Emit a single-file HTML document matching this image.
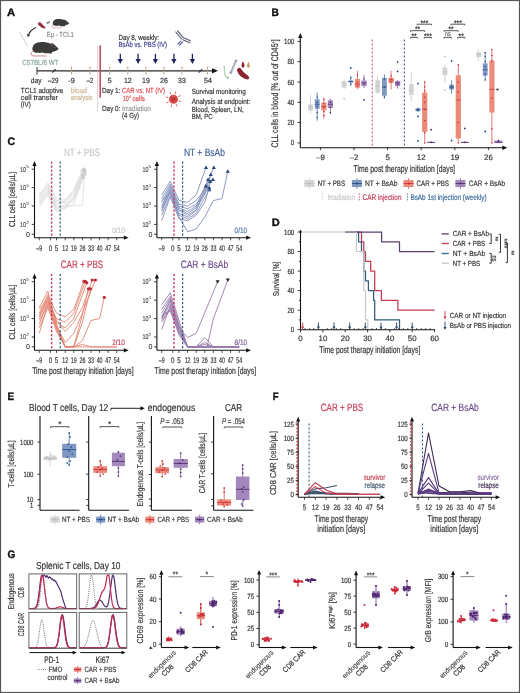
<!DOCTYPE html>
<html><head><meta charset="utf-8"><style>
html,body{margin:0;padding:0;background:#fff;overflow:hidden;}
svg{display:block;will-change:transform;}
text{font-family:"Liberation Sans",sans-serif;text-rendering:geometricPrecision;}
</style></head><body>
<svg width="520" height="693" viewBox="0 0 520 693">
<rect x="0" y="0" width="520" height="693" fill="#fff"/>
<text x="7.0" y="16.2" font-size="10.8" fill="#111" text-anchor="start" font-weight="bold" stroke="#111" stroke-width="0.35" textLength="8.2" lengthAdjust="spacingAndGlyphs" >A</text>
<g transform="translate(31.3,41.2) scale(0.76)"><path d="M1.5,9 C0.5,13 5,16.5 9,15 C11,17 15,13 17,16 L24,16 C25,17 27,16.5 26.5,15.5 L28,14 C31,13.5 33,12.5 34.5,11.5 C36,10.5 36.5,9.8 35,9 C33,7.5 32,5.5 30,4.5 C29.5,3.5 29,3 28,3.2 C27.5,2.2 26,2.3 25.5,3.2 C19,0.5 8,0 4,4 C2.5,5.5 2,7 1.5,9 Z" fill="#3d3a3a"/><ellipse cx="27.2" cy="4.8" rx="1.4" ry="1.7" fill="#6a5a5a"/><circle cx="31" cy="8.5" r="0.6" fill="#d8c8a8"/><path d="M3,13 C-2,15 -1.5,19.5 5,19.5 C10,19.5 15,19 20,19.5" stroke="#c86a72" stroke-width="1.1" fill="none"/></g>
<g transform="translate(52,18.5) scale(0.48)"><path d="M1.5,9 C0.5,13 5,16.5 9,15 C11,17 15,13 17,16 L24,16 C25,17 27,16.5 26.5,15.5 L28,14 C31,13.5 33,12.5 34.5,11.5 C36,10.5 36.5,9.8 35,9 C33,7.5 32,5.5 30,4.5 C29.5,3.5 29,3 28,3.2 C27.5,2.2 26,2.3 25.5,3.2 C19,0.5 8,0 4,4 C2.5,5.5 2,7 1.5,9 Z" fill="#3d3a3a"/><ellipse cx="27.2" cy="4.8" rx="1.4" ry="1.7" fill="#6a5a5a"/><circle cx="31" cy="8.5" r="0.6" fill="#d8c8a8"/><path d="M3,13 C-2,15 -1.5,19.5 5,19.5 C10,19.5 15,19 20,19.5" stroke="#c86a72" stroke-width="1.1" fill="none"/></g>
<path d="M38,23 C39,21.5 41,22 42.5,24.5 C44,26.5 45.8,27 45.5,28 C45,28.8 43,28.5 41,27 C39,25.5 37.5,24.5 38,23 Z" stroke="none" fill="#8e2a3c" stroke-width="1" />
<path d="M39.2,23.2 C40.2,22.8 41.5,24 42.3,25.3" stroke="#d05068" fill="none" stroke-width="0.6" />
<path d="M47.5,22.6 L50,21.8" stroke="#333" fill="none" stroke-width="0.8" />
<path d="M46,23.2 L48.2,21.8 L48.6,23.6 Z" stroke="none" fill="#333" stroke-width="1" />
<path d="M36,27.5 C32.5,29 29.8,31.5 28.6,34.5" stroke="#222" fill="none" stroke-width="1.1" />
<path d="M26.9,33.9 L27.9,37 L30.4,34.9 Z" stroke="none" fill="#222" stroke-width="1" />
<line x1="19.0" y1="31.6" x2="27.7" y2="46.0" stroke="#a0a0a0" stroke-width="0.5" />
<text x="46.7" y="37.0" font-size="7.45" fill="#8c8c8c" text-anchor="start" stroke="#8c8c8c" stroke-width="0.18" textLength="27.1" lengthAdjust="spacingAndGlyphs" >Eµ - TCL1</text>
<text x="22.3" y="64.6" font-size="7.45" fill="#86a49a" text-anchor="start" stroke="#86a49a" stroke-width="0.18" textLength="36.2" lengthAdjust="spacingAndGlyphs" >C57BL/6 WT</text>
<line x1="37.0" y1="70.8" x2="214.0" y2="70.8" stroke="#2a2a2a" stroke-width="1.2" />
<path d="M212,68.2 L218,70.8 L212,73.39999999999999 Z" stroke="none" fill="#111" stroke-width="1" />
<line x1="37.0" y1="67.0" x2="37.0" y2="74.6" stroke="#333" stroke-width="1" />
<path d="M52.2,72.39999999999999 C53.4,72.0 54.6,69.6 55.8,69.2" stroke="#333" fill="none" stroke-width="1.1" />
<path d="M198.7,72.39999999999999 C199.9,72.0 201.1,69.6 202.3,69.2" stroke="#333" fill="none" stroke-width="1.1" />
<line x1="71.5" y1="66.5" x2="71.5" y2="74.5" stroke="#bca680" stroke-width="1.0" />
<line x1="90.0" y1="66.5" x2="90.0" y2="74.5" stroke="#bca680" stroke-width="1.0" />
<line x1="109.7" y1="66.5" x2="109.7" y2="74.5" stroke="#bca680" stroke-width="1.0" />
<line x1="127.8" y1="66.5" x2="127.8" y2="74.5" stroke="#bca680" stroke-width="1.0" />
<line x1="145.9" y1="66.5" x2="145.9" y2="74.5" stroke="#bca680" stroke-width="1.0" />
<line x1="163.9" y1="66.5" x2="163.9" y2="74.5" stroke="#bca680" stroke-width="1.0" />
<line x1="182.0" y1="66.5" x2="182.0" y2="74.5" stroke="#bca680" stroke-width="1.0" />
<line x1="207.4" y1="66.5" x2="207.4" y2="74.5" stroke="#bca680" stroke-width="1.0" />
<text x="30.8" y="83.2" font-size="7.45" fill="#333" text-anchor="start" stroke="#333" stroke-width="0.18" textLength="10.7" lengthAdjust="spacingAndGlyphs" >day</text>
<text x="53.2" y="83.2" font-size="7.45" fill="#333" text-anchor="middle" stroke="#333" stroke-width="0.18" textLength="10.4" lengthAdjust="spacingAndGlyphs" >–29</text>
<text x="71.5" y="83.2" font-size="7.45" fill="#333" text-anchor="middle" stroke="#333" stroke-width="0.18" textLength="6.5" lengthAdjust="spacingAndGlyphs" >-9</text>
<text x="90.0" y="83.2" font-size="7.45" fill="#333" text-anchor="middle" stroke="#333" stroke-width="0.18" textLength="6.5" lengthAdjust="spacingAndGlyphs" >–2</text>
<text x="109.7" y="83.2" font-size="7.45" fill="#333" text-anchor="middle" stroke="#333" stroke-width="0.18" textLength="3.9" lengthAdjust="spacingAndGlyphs" >5</text>
<text x="127.8" y="83.2" font-size="7.45" fill="#333" text-anchor="middle" stroke="#333" stroke-width="0.18" textLength="7.8" lengthAdjust="spacingAndGlyphs" >12</text>
<text x="145.9" y="83.2" font-size="7.45" fill="#333" text-anchor="middle" stroke="#333" stroke-width="0.18" textLength="7.8" lengthAdjust="spacingAndGlyphs" >19</text>
<text x="163.9" y="83.2" font-size="7.45" fill="#333" text-anchor="middle" stroke="#333" stroke-width="0.18" textLength="7.8" lengthAdjust="spacingAndGlyphs" >26</text>
<text x="182.0" y="83.2" font-size="7.45" fill="#333" text-anchor="middle" stroke="#333" stroke-width="0.18" textLength="7.8" lengthAdjust="spacingAndGlyphs" >33</text>
<text x="208.0" y="83.2" font-size="7.45" fill="#333" text-anchor="middle" stroke="#333" stroke-width="0.18" textLength="7.8" lengthAdjust="spacingAndGlyphs" >54</text>
<line x1="97.6" y1="45.4" x2="97.6" y2="111.5" stroke="#bbb" stroke-width="0.6" />
<line x1="100.2" y1="45.4" x2="100.2" y2="97.7" stroke="#c0505a" stroke-width="1.6" />
<text x="20.8" y="92.7" font-size="7.45" fill="#333" text-anchor="start" stroke="#333" stroke-width="0.18" textLength="42.2" lengthAdjust="spacingAndGlyphs" >TCL1 adoptive</text>
<text x="20.8" y="100.2" font-size="7.45" fill="#333" text-anchor="start" stroke="#333" stroke-width="0.18" textLength="37.0" lengthAdjust="spacingAndGlyphs" >cell transfer</text>
<text x="20.8" y="107.3" font-size="7.45" fill="#333" text-anchor="start" stroke="#333" stroke-width="0.18" textLength="10.0" lengthAdjust="spacingAndGlyphs" >(IV)</text>
<text x="70.8" y="92.7" font-size="7.45" fill="#c9b48c" text-anchor="start" stroke="#c9b48c" stroke-width="0.18" textLength="16.2" lengthAdjust="spacingAndGlyphs" >blood</text>
<text x="70.8" y="100.2" font-size="7.45" fill="#c9b48c" text-anchor="start" stroke="#c9b48c" stroke-width="0.18" textLength="21.7" lengthAdjust="spacingAndGlyphs" >analysis</text>
<text x="102.0" y="93.2" font-size="7.45" fill="#333" text-anchor="start" stroke="#333" stroke-width="0.18" textLength="18.4" lengthAdjust="spacingAndGlyphs" >Day 1:</text>
<text x="122.0" y="93.2" font-size="7.45" fill="#d9484c" text-anchor="start" stroke="#d9484c" stroke-width="0.18" textLength="43.0" lengthAdjust="spacingAndGlyphs" >CAR vs. NT (IV)</text>
<text x="122.7" y="100.6" font-size="7.45" fill="#d9484c" text-anchor="start" stroke="#d9484c" stroke-width="0.18" textLength="6.0" lengthAdjust="spacingAndGlyphs" >10</text>
<text x="129.0" y="97.5" font-size="4.32" fill="#d9484c" text-anchor="start" >6</text>
<text x="132.5" y="100.6" font-size="7.45" fill="#d9484c" text-anchor="start" stroke="#d9484c" stroke-width="0.18" textLength="12.5" lengthAdjust="spacingAndGlyphs" >cells</text>
<text x="102.0" y="110.6" font-size="7.45" fill="#333" text-anchor="start" stroke="#333" stroke-width="0.18" textLength="18.4" lengthAdjust="spacingAndGlyphs" >Day 0:</text>
<text x="122.0" y="110.6" font-size="7.45" fill="#9a9a9a" text-anchor="start" stroke="#9a9a9a" stroke-width="0.18" textLength="29.0" lengthAdjust="spacingAndGlyphs" >Irradiation</text>
<text x="122.0" y="118.4" font-size="7.45" fill="#333" text-anchor="start" stroke="#333" stroke-width="0.18" textLength="17.0" lengthAdjust="spacingAndGlyphs" >(4 Gy)</text>
<text x="118.5" y="39.6" font-size="7.45" fill="#333" text-anchor="start" stroke="#333" stroke-width="0.18" textLength="40.5" lengthAdjust="spacingAndGlyphs" >Day 8, weekly:</text>
<text x="118.5" y="47.0" font-size="7.45" fill="#3a3d93" text-anchor="start" stroke="#3a3d93" stroke-width="0.18" textLength="48.5" lengthAdjust="spacingAndGlyphs" >BsAb vs. PBS (IV)</text>
<line x1="120.3" y1="53.8" x2="120.3" y2="59.5" stroke="#1f2461" stroke-width="1.3" />
<path d="M117.7,59.0 L120.3,64.0 L122.9,59.0 Z" stroke="none" fill="#1f2461" stroke-width="1" />
<line x1="138.1" y1="53.8" x2="138.1" y2="59.5" stroke="#1f2461" stroke-width="1.3" />
<path d="M135.5,59.0 L138.1,64.0 L140.7,59.0 Z" stroke="none" fill="#1f2461" stroke-width="1" />
<line x1="155.4" y1="53.8" x2="155.4" y2="59.5" stroke="#1f2461" stroke-width="1.3" />
<path d="M152.8,59.0 L155.4,64.0 L158.0,59.0 Z" stroke="none" fill="#1f2461" stroke-width="1" />
<line x1="173.9" y1="53.8" x2="173.9" y2="59.5" stroke="#1f2461" stroke-width="1.3" />
<path d="M171.3,59.0 L173.9,64.0 L176.5,59.0 Z" stroke="none" fill="#1f2461" stroke-width="1" />
<line x1="192.4" y1="53.8" x2="192.4" y2="59.5" stroke="#1f2461" stroke-width="1.3" />
<path d="M189.8,59.0 L192.4,64.0 L195.0,59.0 Z" stroke="none" fill="#1f2461" stroke-width="1" />
<g stroke="#555a78" stroke-width="1.15" fill="none" stroke-linecap="round"><path d="M175.8,32.0 L181.6,39.0 M177.6,30.8 L183.2,37.6"/><path d="M182.8,39.8 L189.6,42.8 M183.6,37.8 L190.4,40.8"/><path d="M180.8,41.2 L178.0,44.0 M182.4,42.2 L179.6,45.0" stroke="#5a60a0"/></g>
<path d="M224.2,66 C224.6,70 224.2,74 225.6,76.2 C226.6,77.6 227.8,78.2 229,78" stroke="#a6d8aa" fill="none" stroke-width="1.4" />
<circle cx="227.8" cy="77.8" r="1.1" fill="#8cc894" />
<path d="M235.6,61.4 L231.2,72" stroke="#a8b0c0" fill="none" stroke-width="2.0" />
<circle cx="236.0" cy="60.8" r="1.4" fill="#98a0b4" />
<circle cx="230.8" cy="72.6" r="1.4" fill="#98a0b4" />
<path d="M243,61.2 C241.2,64.5 240.9,66.8 243,67.8 C245.1,66.8 244.8,64.5 243,61.2 Z" stroke="none" fill="#8e2030" stroke-width="1" />
<path d="M248.4,61.8 C246.6,65 246.3,67 248.4,68 C250.5,67 250.2,65 248.4,61.8 Z" stroke="none" fill="#c89a68" stroke-width="1" />
<path d="M237.6,70 C239,74.5 242.5,77.8 247.2,78.8 C249,78.8 248.8,77 246.8,75.6 C243.8,73.6 241.6,71.2 240.4,69 C239.6,68 237.8,68.6 237.6,70 Z" stroke="#8a2630" fill="#8a2630" stroke-width="1.4" />
<g stroke="#d94a4a" stroke-width="0.9"><line x1="178.8" y1="100.8" x2="181.1" y2="101.6"/><line x1="176.1" y1="104.1" x2="177.2" y2="106.3"/><line x1="171.9" y1="104.5" x2="171.1" y2="106.8"/><line x1="168.6" y1="101.8" x2="166.4" y2="102.9"/><line x1="168.2" y1="97.6" x2="165.9" y2="96.8"/><line x1="170.9" y1="94.3" x2="169.8" y2="92.1"/><line x1="175.1" y1="93.9" x2="175.9" y2="91.6"/><line x1="178.4" y1="96.6" x2="180.6" y2="95.5"/></g>
<circle cx="173.5" cy="99.2" r="4.5" fill="#d94a4a" />
<circle cx="173.5" cy="99.2" r="2.2" fill="#c03838" />
<text x="191.7" y="93.5" font-size="7.45" fill="#333" text-anchor="start" stroke="#333" stroke-width="0.18" textLength="54.0" lengthAdjust="spacingAndGlyphs" >Survival monitoring</text>
<text x="191.7" y="103.5" font-size="7.45" fill="#333" text-anchor="start" stroke="#333" stroke-width="0.18" textLength="58.7" lengthAdjust="spacingAndGlyphs" >Analysis at endpoint:</text>
<text x="191.7" y="111.5" font-size="7.45" fill="#333" text-anchor="start" stroke="#333" stroke-width="0.18" textLength="52.0" lengthAdjust="spacingAndGlyphs" >Blood, Spleen, LN,</text>
<text x="191.7" y="119.0" font-size="7.45" fill="#333" text-anchor="start" stroke="#333" stroke-width="0.18" textLength="21.0" lengthAdjust="spacingAndGlyphs" >BM, PC</text>
<text x="271.6" y="16.2" font-size="10.8" fill="#111" text-anchor="start" font-weight="bold" stroke="#111" stroke-width="0.35" textLength="7.4" lengthAdjust="spacingAndGlyphs" >B</text>
<line x1="300.3" y1="147.7" x2="300.3" y2="37.5" stroke="#111" stroke-width="1.1" />
<path d="M298.1,38.0 L300.3,33.0 L302.5,38.0 Z" stroke="none" fill="#111" stroke-width="1" />
<line x1="300.3" y1="147.7" x2="502.8" y2="147.7" stroke="#111" stroke-width="1.1" />
<path d="M502.3,145.5 L507.3,147.7 L502.3,149.9 Z" stroke="none" fill="#111" stroke-width="1" />
<line x1="297.5" y1="142.9" x2="300.3" y2="142.9" stroke="#222" stroke-width="0.9" />
<text x="294.2" y="145.4" font-size="7.56" fill="#333" text-anchor="end" stroke="#333" stroke-width="0.18" textLength="3.4" lengthAdjust="spacingAndGlyphs" >0</text>
<line x1="297.5" y1="122.6" x2="300.3" y2="122.6" stroke="#222" stroke-width="0.9" />
<text x="294.2" y="125.1" font-size="7.56" fill="#333" text-anchor="end" stroke="#333" stroke-width="0.18" textLength="6.8" lengthAdjust="spacingAndGlyphs" >20</text>
<line x1="297.5" y1="102.3" x2="300.3" y2="102.3" stroke="#222" stroke-width="0.9" />
<text x="294.2" y="104.8" font-size="7.56" fill="#333" text-anchor="end" stroke="#333" stroke-width="0.18" textLength="6.8" lengthAdjust="spacingAndGlyphs" >40</text>
<line x1="297.5" y1="82.0" x2="300.3" y2="82.0" stroke="#222" stroke-width="0.9" />
<text x="294.2" y="84.5" font-size="7.56" fill="#333" text-anchor="end" stroke="#333" stroke-width="0.18" textLength="6.8" lengthAdjust="spacingAndGlyphs" >60</text>
<line x1="297.5" y1="61.7" x2="300.3" y2="61.7" stroke="#222" stroke-width="0.9" />
<text x="294.2" y="64.2" font-size="7.56" fill="#333" text-anchor="end" stroke="#333" stroke-width="0.18" textLength="6.8" lengthAdjust="spacingAndGlyphs" >80</text>
<line x1="297.5" y1="41.4" x2="300.3" y2="41.4" stroke="#222" stroke-width="0.9" />
<text x="294.2" y="43.9" font-size="7.56" fill="#333" text-anchor="end" stroke="#333" stroke-width="0.18" textLength="10.2" lengthAdjust="spacingAndGlyphs" >100</text>
<text x="277.6" y="93.4" font-size="9.61" fill="#333" text-anchor="middle" stroke="#333" stroke-width="0.18" textLength="108.0" lengthAdjust="spacingAndGlyphs" transform="rotate(-90 277.6 93.4)" >CLL cells in blood [% out of CD45<tspan font-size="5" dy="-3">+</tspan><tspan dy="3">]</tspan></text>
<line x1="320.4" y1="147.7" x2="320.4" y2="150.2" stroke="#222" stroke-width="0.9" />
<text x="320.4" y="160.2" font-size="7.88" fill="#333" text-anchor="middle" stroke="#333" stroke-width="0.18" >–9</text>
<line x1="354.0" y1="147.7" x2="354.0" y2="150.2" stroke="#222" stroke-width="0.9" />
<text x="354.0" y="160.2" font-size="7.88" fill="#333" text-anchor="middle" stroke="#333" stroke-width="0.18" >–2</text>
<line x1="387.6" y1="147.7" x2="387.6" y2="150.2" stroke="#222" stroke-width="0.9" />
<text x="387.6" y="160.2" font-size="7.88" fill="#333" text-anchor="middle" stroke="#333" stroke-width="0.18" >5</text>
<line x1="421.2" y1="147.7" x2="421.2" y2="150.2" stroke="#222" stroke-width="0.9" />
<text x="421.2" y="160.2" font-size="7.88" fill="#333" text-anchor="middle" stroke="#333" stroke-width="0.18" >12</text>
<line x1="454.8" y1="147.7" x2="454.8" y2="150.2" stroke="#222" stroke-width="0.9" />
<text x="454.8" y="160.2" font-size="7.88" fill="#333" text-anchor="middle" stroke="#333" stroke-width="0.18" >19</text>
<line x1="488.4" y1="147.7" x2="488.4" y2="150.2" stroke="#222" stroke-width="0.9" />
<text x="488.4" y="160.2" font-size="7.88" fill="#333" text-anchor="middle" stroke="#333" stroke-width="0.18" >26</text>
<line x1="372.3" y1="39.6" x2="372.3" y2="147.7" stroke="#c8506e" stroke-width="1.1" stroke-dasharray="2,2" />
<line x1="404.4" y1="39.6" x2="404.4" y2="147.7" stroke="#4a6080" stroke-width="1.1" stroke-dasharray="2,2" />
<line x1="310.5" y1="95.2" x2="310.5" y2="113.5" stroke="#c8c8c8" stroke-width="0.8" />
<rect x="308.1" y="104.3" width="4.8" height="6.1" fill="#d4d4d4" stroke="none" stroke-width="1" />
<line x1="308.1" y1="107.4" x2="312.9" y2="107.4" stroke="#bdbdbd" stroke-width="0.7" />
<circle cx="310.5" cy="109.4" r="0.75" fill="#bdbdbd" />
<circle cx="310.5" cy="106.4" r="0.75" fill="#bdbdbd" />
<line x1="317.2" y1="92.5" x2="317.2" y2="120.6" stroke="#456ea3" stroke-width="0.8" />
<rect x="314.8" y="99.3" width="4.8" height="9.5" fill="#7f98c4" stroke="none" stroke-width="1" />
<line x1="314.8" y1="104.3" x2="319.6" y2="104.3" stroke="#1d4b82" stroke-width="0.7" />
<circle cx="317.2" cy="117.5" r="0.75" fill="#1d4b82" />
<circle cx="317.2" cy="112.5" r="0.75" fill="#1d4b82" />
<circle cx="317.2" cy="106.4" r="0.75" fill="#1d4b82" />
<circle cx="317.2" cy="102.3" r="0.75" fill="#1d4b82" />
<circle cx="317.2" cy="97.2" r="0.75" fill="#1d4b82" />
<line x1="323.9" y1="97.7" x2="323.9" y2="118.5" stroke="#d9574f" stroke-width="0.8" />
<rect x="321.3" y="102.7" width="5.2" height="7.7" fill="#ec8a78" stroke="none" stroke-width="1" />
<line x1="321.3" y1="106.4" x2="326.5" y2="106.4" stroke="#c8283a" stroke-width="0.7" />
<circle cx="323.9" cy="115.5" r="0.75" fill="#c8283a" />
<circle cx="323.9" cy="111.4" r="0.75" fill="#c8283a" />
<circle cx="323.9" cy="107.4" r="0.75" fill="#c8283a" />
<circle cx="323.9" cy="103.3" r="0.75" fill="#c8283a" />
<circle cx="323.9" cy="99.3" r="0.75" fill="#c8283a" />
<line x1="330.4" y1="98.6" x2="330.4" y2="114.2" stroke="#7d56a0" stroke-width="0.8" />
<rect x="327.8" y="100.3" width="5.2" height="7.6" fill="#a487bd" stroke="none" stroke-width="1" />
<line x1="327.8" y1="104.3" x2="333.0" y2="104.3" stroke="#4e246c" stroke-width="0.7" />
<circle cx="330.4" cy="112.5" r="0.75" fill="#4e246c" />
<circle cx="330.4" cy="107.4" r="0.75" fill="#4e246c" />
<circle cx="330.4" cy="102.3" r="0.75" fill="#4e246c" />
<line x1="344.1" y1="79.0" x2="344.1" y2="89.1" stroke="#c8c8c8" stroke-width="0.8" />
<rect x="341.7" y="81.0" width="4.8" height="6.6" fill="#d4d4d4" stroke="none" stroke-width="1" />
<line x1="341.7" y1="84.0" x2="346.5" y2="84.0" stroke="#bdbdbd" stroke-width="0.7" />
<circle cx="344.1" cy="98.6" r="0.9" fill="#bdbdbd" />
<line x1="350.8" y1="75.9" x2="350.8" y2="86.0" stroke="#456ea3" stroke-width="0.8" />
<rect x="348.4" y="80.5" width="4.8" height="2.0" fill="#7f98c4" stroke="none" stroke-width="1" />
<line x1="348.4" y1="81.5" x2="353.2" y2="81.5" stroke="#1d4b82" stroke-width="0.7" />
<circle cx="350.8" cy="67.9" r="0.9" fill="#1d4b82" />
<circle cx="350.8" cy="84.0" r="0.75" fill="#1d4b82" />
<circle cx="350.8" cy="77.9" r="0.75" fill="#1d4b82" />
<line x1="357.5" y1="70.8" x2="357.5" y2="89.1" stroke="#d9574f" stroke-width="0.8" />
<rect x="354.9" y="79.0" width="5.2" height="8.6" fill="#ec8a78" stroke="none" stroke-width="1" />
<line x1="354.9" y1="84.0" x2="360.1" y2="84.0" stroke="#c8283a" stroke-width="0.7" />
<circle cx="357.5" cy="86.1" r="0.75" fill="#c8283a" />
<circle cx="357.5" cy="82.0" r="0.75" fill="#c8283a" />
<circle cx="357.5" cy="74.9" r="0.75" fill="#c8283a" />
<line x1="364.0" y1="74.9" x2="364.0" y2="88.1" stroke="#7d56a0" stroke-width="0.8" />
<rect x="361.4" y="80.5" width="5.2" height="5.6" fill="#a487bd" stroke="none" stroke-width="1" />
<line x1="361.4" y1="83.0" x2="366.6" y2="83.0" stroke="#4e246c" stroke-width="0.7" />
<circle cx="364.0" cy="99.8" r="0.9" fill="#4e246c" />
<circle cx="364.0" cy="84.0" r="0.75" fill="#4e246c" />
<circle cx="364.0" cy="79.0" r="0.75" fill="#4e246c" />
<line x1="377.7" y1="75.2" x2="377.7" y2="93.7" stroke="#c8c8c8" stroke-width="0.8" />
<rect x="375.3" y="80.2" width="4.8" height="12.5" fill="#d4d4d4" stroke="none" stroke-width="1" />
<line x1="375.3" y1="86.1" x2="380.1" y2="86.1" stroke="#bdbdbd" stroke-width="0.7" />
<line x1="384.4" y1="74.3" x2="384.4" y2="98.4" stroke="#456ea3" stroke-width="0.8" />
<rect x="382.0" y="78.0" width="4.8" height="17.7" fill="#7f98c4" stroke="none" stroke-width="1" />
<line x1="382.0" y1="87.1" x2="386.8" y2="87.1" stroke="#1d4b82" stroke-width="0.7" />
<circle cx="384.4" cy="97.2" r="0.75" fill="#1d4b82" />
<circle cx="384.4" cy="87.1" r="0.75" fill="#1d4b82" />
<circle cx="384.4" cy="79.0" r="0.75" fill="#1d4b82" />
<line x1="391.1" y1="70.8" x2="391.1" y2="89.6" stroke="#d9574f" stroke-width="0.8" />
<rect x="388.5" y="77.9" width="5.2" height="5.1" fill="#ec8a78" stroke="none" stroke-width="1" />
<line x1="388.5" y1="80.0" x2="393.7" y2="80.0" stroke="#c8283a" stroke-width="0.7" />
<circle cx="391.1" cy="82.0" r="0.75" fill="#c8283a" />
<circle cx="391.1" cy="79.0" r="0.75" fill="#c8283a" />
<circle cx="391.1" cy="75.9" r="0.75" fill="#c8283a" />
<line x1="397.6" y1="80.0" x2="397.6" y2="88.6" stroke="#7d56a0" stroke-width="0.8" />
<rect x="395.0" y="81.0" width="5.2" height="5.1" fill="#a487bd" stroke="none" stroke-width="1" />
<line x1="395.0" y1="83.0" x2="400.2" y2="83.0" stroke="#4e246c" stroke-width="0.7" />
<circle cx="397.6" cy="61.8" r="0.9" fill="#4e246c" />
<circle cx="397.6" cy="71.4" r="0.9" fill="#4e246c" />
<circle cx="397.6" cy="84.0" r="0.75" fill="#4e246c" />
<line x1="411.3" y1="71.6" x2="411.3" y2="101.2" stroke="#c8c8c8" stroke-width="0.8" />
<rect x="408.9" y="84.1" width="4.8" height="10.9" fill="#d4d4d4" stroke="none" stroke-width="1" />
<line x1="408.9" y1="90.1" x2="413.7" y2="90.1" stroke="#bdbdbd" stroke-width="0.7" />
<line x1="418.0" y1="107.4" x2="418.0" y2="111.9" stroke="#456ea3" stroke-width="0.8" />
<rect x="415.6" y="108.4" width="4.8" height="2.8" fill="#7f98c4" stroke="none" stroke-width="1" />
<line x1="415.6" y1="109.4" x2="420.4" y2="109.4" stroke="#1d4b82" stroke-width="0.7" />
<circle cx="418.0" cy="83.6" r="0.9" fill="#1d4b82" />
<circle cx="418.0" cy="116.4" r="0.9" fill="#1d4b82" />
<circle cx="418.0" cy="140.9" r="0.9" fill="#1d4b82" />
<circle cx="418.0" cy="110.4" r="0.75" fill="#1d4b82" />
<circle cx="418.0" cy="109.4" r="0.75" fill="#1d4b82" />
<line x1="424.7" y1="81.7" x2="424.7" y2="142.9" stroke="#d9574f" stroke-width="0.8" />
<rect x="422.1" y="92.6" width="5.2" height="39.2" fill="#ec8a78" stroke="none" stroke-width="1" />
<line x1="422.1" y1="109.2" x2="427.3" y2="109.2" stroke="#c8283a" stroke-width="0.7" />
<circle cx="424.7" cy="142.9" r="0.75" fill="#c8283a" />
<circle cx="424.7" cy="132.8" r="0.75" fill="#c8283a" />
<circle cx="424.7" cy="120.6" r="0.75" fill="#c8283a" />
<circle cx="424.7" cy="109.4" r="0.75" fill="#c8283a" />
<circle cx="424.7" cy="102.3" r="0.75" fill="#c8283a" />
<circle cx="424.7" cy="97.2" r="0.75" fill="#c8283a" />
<circle cx="424.7" cy="91.1" r="0.75" fill="#c8283a" />
<circle cx="424.7" cy="87.1" r="0.75" fill="#c8283a" />
<circle cx="424.7" cy="82.0" r="0.75" fill="#c8283a" />
<line x1="431.2" y1="140.9" x2="431.2" y2="142.9" stroke="#7d56a0" stroke-width="0.8" />
<rect x="427.2" y="141.9" width="8.0" height="1.0" fill="#a487bd" stroke="none" stroke-width="1" />
<line x1="427.2" y1="142.4" x2="435.2" y2="142.4" stroke="#4e246c" stroke-width="0.7" />
<circle cx="431.2" cy="129.7" r="0.9" fill="#4e246c" />
<circle cx="431.2" cy="142.4" r="0.75" fill="#4e246c" />
<line x1="444.9" y1="64.9" x2="444.9" y2="82.9" stroke="#c8c8c8" stroke-width="0.8" />
<rect x="442.5" y="67.5" width="4.8" height="7.8" fill="#d4d4d4" stroke="none" stroke-width="1" />
<line x1="442.5" y1="71.9" x2="447.3" y2="71.9" stroke="#bdbdbd" stroke-width="0.7" />
<circle cx="444.9" cy="56.6" r="0.9" fill="#bdbdbd" />
<circle cx="444.9" cy="89.8" r="0.9" fill="#bdbdbd" />
<line x1="451.6" y1="80.3" x2="451.6" y2="93.8" stroke="#456ea3" stroke-width="0.8" />
<rect x="449.2" y="84.7" width="4.8" height="4.8" fill="#7f98c4" stroke="none" stroke-width="1" />
<line x1="449.2" y1="87.1" x2="454.0" y2="87.1" stroke="#1d4b82" stroke-width="0.7" />
<circle cx="451.6" cy="60.9" r="0.9" fill="#1d4b82" />
<circle cx="451.6" cy="140.5" r="0.9" fill="#1d4b82" />
<circle cx="451.6" cy="88.1" r="0.75" fill="#1d4b82" />
<circle cx="451.6" cy="86.1" r="0.75" fill="#1d4b82" />
<line x1="458.3" y1="64.2" x2="458.3" y2="142.9" stroke="#d9574f" stroke-width="0.8" />
<rect x="455.7" y="75.3" width="5.2" height="63.2" fill="#ec8a78" stroke="none" stroke-width="1" />
<line x1="455.7" y1="99.9" x2="460.9" y2="99.9" stroke="#c8283a" stroke-width="0.7" />
<circle cx="458.3" cy="142.9" r="0.75" fill="#c8283a" />
<circle cx="458.3" cy="122.6" r="0.75" fill="#c8283a" />
<circle cx="458.3" cy="92.2" r="0.75" fill="#c8283a" />
<circle cx="458.3" cy="82.0" r="0.75" fill="#c8283a" />
<circle cx="458.3" cy="64.7" r="0.75" fill="#c8283a" />
<line x1="464.8" y1="140.9" x2="464.8" y2="142.9" stroke="#7d56a0" stroke-width="0.8" />
<rect x="460.8" y="141.9" width="8.0" height="1.0" fill="#a487bd" stroke="none" stroke-width="1" />
<line x1="460.8" y1="142.4" x2="468.8" y2="142.4" stroke="#4e246c" stroke-width="0.7" />
<circle cx="464.8" cy="128.4" r="0.9" fill="#4e246c" />
<circle cx="464.8" cy="142.4" r="0.75" fill="#4e246c" />
<line x1="478.5" y1="49.1" x2="478.5" y2="60.6" stroke="#c8c8c8" stroke-width="0.8" />
<rect x="476.1" y="52.1" width="4.8" height="5.2" fill="#d4d4d4" stroke="none" stroke-width="1" />
<line x1="476.1" y1="54.6" x2="480.9" y2="54.6" stroke="#bdbdbd" stroke-width="0.7" />
<line x1="485.2" y1="52.1" x2="485.2" y2="80.2" stroke="#456ea3" stroke-width="0.8" />
<rect x="482.8" y="63.4" width="4.8" height="12.2" fill="#7f98c4" stroke="none" stroke-width="1" />
<line x1="482.8" y1="69.8" x2="487.6" y2="69.8" stroke="#1d4b82" stroke-width="0.7" />
<circle cx="485.2" cy="131.5" r="0.9" fill="#1d4b82" />
<circle cx="485.2" cy="80.0" r="0.75" fill="#1d4b82" />
<circle cx="485.2" cy="73.9" r="0.75" fill="#1d4b82" />
<circle cx="485.2" cy="66.8" r="0.75" fill="#1d4b82" />
<circle cx="485.2" cy="61.7" r="0.75" fill="#1d4b82" />
<circle cx="485.2" cy="56.6" r="0.75" fill="#1d4b82" />
<circle cx="485.2" cy="52.6" r="0.75" fill="#1d4b82" />
<line x1="491.9" y1="49.7" x2="491.9" y2="142.9" stroke="#d9574f" stroke-width="0.8" />
<rect x="489.3" y="60.6" width="5.2" height="51.9" fill="#ec8a78" stroke="none" stroke-width="1" />
<line x1="489.3" y1="89.4" x2="494.5" y2="89.4" stroke="#c8283a" stroke-width="0.7" />
<circle cx="491.9" cy="142.9" r="0.75" fill="#c8283a" />
<circle cx="491.9" cy="128.7" r="0.75" fill="#c8283a" />
<circle cx="491.9" cy="98.2" r="0.75" fill="#c8283a" />
<circle cx="491.9" cy="60.7" r="0.75" fill="#c8283a" />
<circle cx="491.9" cy="55.6" r="0.75" fill="#c8283a" />
<circle cx="491.9" cy="49.5" r="0.75" fill="#c8283a" />
<line x1="498.4" y1="139.9" x2="498.4" y2="142.9" stroke="#7d56a0" stroke-width="0.8" />
<rect x="494.4" y="140.5" width="8.0" height="2.4" fill="#a487bd" stroke="none" stroke-width="1" />
<line x1="494.4" y1="142.4" x2="502.4" y2="142.4" stroke="#4e246c" stroke-width="0.7" />
<circle cx="498.4" cy="141.9" r="0.75" fill="#4e246c" />
<circle cx="498.4" cy="140.4" r="0.75" fill="#4e246c" />
<path d="M495.8,88.8 L499.2,88.8 L497.5,91 Z" stroke="none" fill="#333" stroke-width="1" />
<path d="M417.2,25.3 L417.2,24.2 L431.6,24.2 L431.6,25.3" stroke="#444" fill="none" stroke-width="0.9" />
<text x="424.4" y="25.8" font-size="8.21" fill="#333" text-anchor="middle" stroke="#333" stroke-width="0.18" textLength="7.8" lengthAdjust="spacingAndGlyphs" >***</text>
<path d="M410.5,31.8 L410.5,30.7 L424.5,30.7 L424.5,31.8" stroke="#444" fill="none" stroke-width="0.9" />
<text x="417.5" y="32.3" font-size="8.21" fill="#333" text-anchor="middle" stroke="#333" stroke-width="0.18" textLength="5.2" lengthAdjust="spacingAndGlyphs" >**</text>
<path d="M410.5,38.5 L410.5,37.4 L417.5,37.4 L417.5,38.5" stroke="#444" fill="none" stroke-width="0.9" />
<text x="414.0" y="39.0" font-size="8.21" fill="#333" text-anchor="middle" stroke="#333" stroke-width="0.18" textLength="5.2" lengthAdjust="spacingAndGlyphs" >**</text>
<path d="M424.2,38.5 L424.2,37.4 L431.6,37.4 L431.6,38.5" stroke="#444" fill="none" stroke-width="0.9" />
<text x="427.9" y="39.0" font-size="8.21" fill="#333" text-anchor="middle" stroke="#333" stroke-width="0.18" textLength="7.8" lengthAdjust="spacingAndGlyphs" >***</text>
<path d="M450.9,25.3 L450.9,24.2 L464.9,24.2 L464.9,25.3" stroke="#444" fill="none" stroke-width="0.9" />
<text x="457.9" y="25.8" font-size="8.21" fill="#333" text-anchor="middle" stroke="#333" stroke-width="0.18" textLength="7.8" lengthAdjust="spacingAndGlyphs" >***</text>
<path d="M444.1,31.8 L444.1,30.7 L458.1,30.7 L458.1,31.8" stroke="#444" fill="none" stroke-width="0.9" />
<text x="451.1" y="32.3" font-size="8.21" fill="#333" text-anchor="middle" stroke="#333" stroke-width="0.18" textLength="5.2" lengthAdjust="spacingAndGlyphs" >**</text>
<path d="M444.1,38.5 L444.1,37.4 L451.4,37.4 L451.4,38.5" stroke="#444" fill="none" stroke-width="0.9" />
<text x="447.8" y="36.4" font-size="6.8" fill="#333" text-anchor="middle" textLength="6.0" lengthAdjust="spacingAndGlyphs" >ns</text>
<path d="M457.6,38.5 L457.6,37.4 L464.9,37.4 L464.9,38.5" stroke="#444" fill="none" stroke-width="0.9" />
<text x="461.2" y="39.0" font-size="8.21" fill="#333" text-anchor="middle" stroke="#333" stroke-width="0.18" textLength="5.2" lengthAdjust="spacingAndGlyphs" >**</text>
<text x="353.5" y="171.5" font-size="9.72" fill="#333" text-anchor="start" stroke="#333" stroke-width="0.18" textLength="101.5" lengthAdjust="spacingAndGlyphs" >Time post therapy initiation [days]</text>
<line x1="309.3" y1="178.3" x2="309.3" y2="188.7" stroke="#c8c8c8" stroke-width="0.9" />
<rect x="304.3" y="180.0" width="10.0" height="7.0" fill="#d4d4d4" stroke="none" stroke-width="1" />
<line x1="304.3" y1="183.5" x2="314.3" y2="183.5" stroke="#bdbdbd" stroke-width="0.8" />
<circle cx="309.3" cy="183.5" r="1.1" fill="#bdbdbd" />
<text x="317.7" y="186.2" font-size="7.78" fill="#333" text-anchor="start" stroke="#333" stroke-width="0.18" textLength="27.3" lengthAdjust="spacingAndGlyphs" >NT + PBS</text>
<line x1="356.9" y1="178.3" x2="356.9" y2="188.7" stroke="#456ea3" stroke-width="0.9" />
<rect x="351.9" y="180.0" width="10.0" height="7.0" fill="#7f98c4" stroke="none" stroke-width="1" />
<line x1="351.9" y1="183.5" x2="361.9" y2="183.5" stroke="#1d4b82" stroke-width="0.8" />
<circle cx="356.9" cy="183.5" r="1.1" fill="#1d4b82" />
<text x="365.0" y="186.2" font-size="7.78" fill="#333" text-anchor="start" stroke="#333" stroke-width="0.18" textLength="32.4" lengthAdjust="spacingAndGlyphs" >NT + BsAb</text>
<line x1="408.5" y1="178.3" x2="408.5" y2="188.7" stroke="#d9574f" stroke-width="0.9" />
<rect x="403.5" y="180.0" width="10.0" height="7.0" fill="#ec8a78" stroke="none" stroke-width="1" />
<line x1="403.5" y1="183.5" x2="413.5" y2="183.5" stroke="#c8283a" stroke-width="0.8" />
<circle cx="408.5" cy="183.5" r="1.1" fill="#c8283a" />
<text x="416.6" y="186.2" font-size="7.78" fill="#333" text-anchor="start" stroke="#333" stroke-width="0.18" textLength="32.4" lengthAdjust="spacingAndGlyphs" >CAR + PBS</text>
<line x1="460.4" y1="178.3" x2="460.4" y2="188.7" stroke="#7d56a0" stroke-width="0.9" />
<rect x="455.4" y="180.0" width="10.0" height="7.0" fill="#a487bd" stroke="none" stroke-width="1" />
<line x1="455.4" y1="183.5" x2="465.4" y2="183.5" stroke="#4e246c" stroke-width="0.8" />
<circle cx="460.4" cy="183.5" r="1.1" fill="#4e246c" />
<text x="468.8" y="186.2" font-size="7.78" fill="#333" text-anchor="start" stroke="#333" stroke-width="0.18" textLength="36.2" lengthAdjust="spacingAndGlyphs" >CAR + BsAb</text>
<line x1="322.3" y1="193.5" x2="322.3" y2="201.0" stroke="#ccc" stroke-width="0.8" stroke-dasharray="1.5,1.2" />
<text x="327.5" y="199.6" font-size="8.1" fill="#c8c8c8" text-anchor="start" stroke="#c8c8c8" stroke-width="0.18" textLength="27.5" lengthAdjust="spacingAndGlyphs" >Irradiation</text>
<line x1="359.3" y1="193.5" x2="359.3" y2="201.0" stroke="#c03a55" stroke-width="0.8" stroke-dasharray="1.5,1.2" />
<text x="362.5" y="199.6" font-size="8.1" fill="#c03a55" text-anchor="start" stroke="#c03a55" stroke-width="0.18" textLength="39.0" lengthAdjust="spacingAndGlyphs" >CAR injection</text>
<line x1="407.4" y1="193.5" x2="407.4" y2="201.0" stroke="#44566e" stroke-width="0.8" stroke-dasharray="1.5,1.2" />
<text x="410.4" y="199.6" font-size="8.1" fill="#3a6a9a" text-anchor="start" stroke="#3a6a9a" stroke-width="0.18" textLength="76.2" lengthAdjust="spacingAndGlyphs" >BsAb 1st injection (weekly)</text>
<text x="7.4" y="144.6" font-size="10.8" fill="#111" text-anchor="start" font-weight="bold" stroke="#111" stroke-width="0.35" textLength="7.6" lengthAdjust="spacingAndGlyphs" >C</text>
<polyline points="39.3,195.9 47.9,183.0 56.5,200.5 65.2,199.6 73.8,189.4 82.4,170.1" stroke="#d9d9d9" fill="none" stroke-width="0.75" stroke-linejoin="round" />
<path d="M80.3,171.7 L84.5,171.7 L82.4,168.2 Z" stroke="none" fill="#c8c8c8" stroke-width="1" />
<polyline points="39.3,198.6 47.9,186.7 56.5,204.2 65.2,202.3 73.8,193.1 83.6,169.2" stroke="#d9d9d9" fill="none" stroke-width="0.75" stroke-linejoin="round" />
<path d="M81.5,170.8 L85.7,170.8 L83.6,167.3 Z" stroke="none" fill="#c8c8c8" stroke-width="1" />
<polyline points="39.3,202.3 47.9,189.4 56.5,207.8 65.2,205.1 73.8,195.9 84.8,171.0" stroke="#d9d9d9" fill="none" stroke-width="0.75" stroke-linejoin="round" />
<path d="M82.7,172.6 L86.9,172.6 L84.8,169.1 Z" stroke="none" fill="#c8c8c8" stroke-width="1" />
<polyline points="39.3,205.1 47.9,192.2 56.5,211.5 65.2,206.9 73.8,198.6 84.8,173.8" stroke="#d9d9d9" fill="none" stroke-width="0.75" stroke-linejoin="round" />
<path d="M82.7,175.4 L86.9,175.4 L84.8,171.9 Z" stroke="none" fill="#c8c8c8" stroke-width="1" />
<polyline points="39.3,194.0 47.9,184.8 56.5,197.7 65.2,204.2 73.8,200.5 82.4,177.5" stroke="#d9d9d9" fill="none" stroke-width="0.75" stroke-linejoin="round" />
<path d="M80.3,179.1 L84.5,179.1 L82.4,175.6 Z" stroke="none" fill="#c8c8c8" stroke-width="1" />
<polyline points="39.3,206.9 47.9,195.0 56.5,208.8 65.2,207.8 73.8,204.2 83.6,176.6" stroke="#d9d9d9" fill="none" stroke-width="0.75" stroke-linejoin="round" />
<path d="M81.5,178.2 L85.7,178.2 L83.6,174.7 Z" stroke="none" fill="#c8c8c8" stroke-width="1" />
<polyline points="39.3,200.5 47.9,190.4 56.5,206.0 65.2,206.0 73.8,206.0 82.4,205.1 84.8,172.0" stroke="#d9d9d9" fill="none" stroke-width="0.75" stroke-linejoin="round" />
<path d="M82.7,173.6 L86.9,173.6 L84.8,170.1 Z" stroke="none" fill="#c8c8c8" stroke-width="1" />
<polyline points="39.3,196.8 47.9,187.6 56.5,202.3 65.2,201.4 73.8,191.3 84.8,169.2" stroke="#d9d9d9" fill="none" stroke-width="0.75" stroke-linejoin="round" />
<path d="M82.7,170.8 L86.9,170.8 L84.8,167.3 Z" stroke="none" fill="#c8c8c8" stroke-width="1" />
<polyline points="39.3,203.2 47.9,193.1 56.5,210.6 65.2,208.8 73.8,196.8 82.4,174.7" stroke="#d9d9d9" fill="none" stroke-width="0.75" stroke-linejoin="round" />
<path d="M80.3,176.3 L84.5,176.3 L82.4,172.8 Z" stroke="none" fill="#c8c8c8" stroke-width="1" />
<line x1="51.6" y1="161.5" x2="51.6" y2="237.5" stroke="#c03a60" stroke-width="1.4" stroke-dasharray="2.2,1.8" />
<line x1="60.2" y1="161.5" x2="60.2" y2="237.5" stroke="#2e5a7a" stroke-width="1.2" stroke-dasharray="2.2,1.8" />
<line x1="34.5" y1="237.7" x2="34.5" y2="165.4" stroke="#111" stroke-width="1.1" />
<path d="M32.4,165.9 L34.5,161.1 L36.6,165.9 Z" stroke="none" fill="#111" stroke-width="1" />
<line x1="34.5" y1="237.7" x2="124.3" y2="237.7" stroke="#111" stroke-width="1.1" />
<path d="M123.8,235.6 L128.6,237.7 L123.8,239.8 Z" stroke="none" fill="#111" stroke-width="1" />
<line x1="31.7" y1="169.2" x2="34.5" y2="169.2" stroke="#222" stroke-width="0.9" />
<text x="20.0" y="171.6" font-size="7.02" fill="#333" text-anchor="start" stroke="#333" stroke-width="0.1" textLength="6.0" lengthAdjust="spacingAndGlyphs" >10</text>
<text x="26.2" y="168.4" font-size="4.54" fill="#333" text-anchor="start" >5</text>
<line x1="31.7" y1="187.6" x2="34.5" y2="187.6" stroke="#222" stroke-width="0.9" />
<text x="20.0" y="190.0" font-size="7.02" fill="#333" text-anchor="start" stroke="#333" stroke-width="0.1" textLength="6.0" lengthAdjust="spacingAndGlyphs" >10</text>
<text x="26.2" y="186.8" font-size="4.54" fill="#333" text-anchor="start" >4</text>
<line x1="31.7" y1="206.0" x2="34.5" y2="206.0" stroke="#222" stroke-width="0.9" />
<text x="20.0" y="208.4" font-size="7.02" fill="#333" text-anchor="start" stroke="#333" stroke-width="0.1" textLength="6.0" lengthAdjust="spacingAndGlyphs" >10</text>
<text x="26.2" y="205.2" font-size="4.54" fill="#333" text-anchor="start" >3</text>
<line x1="31.7" y1="224.4" x2="34.5" y2="224.4" stroke="#222" stroke-width="0.9" />
<text x="20.0" y="226.8" font-size="7.02" fill="#333" text-anchor="start" stroke="#333" stroke-width="0.1" textLength="6.0" lengthAdjust="spacingAndGlyphs" >10</text>
<text x="26.2" y="223.6" font-size="4.54" fill="#333" text-anchor="start" >2</text>
<line x1="31.7" y1="234.3" x2="34.5" y2="234.3" stroke="#222" stroke-width="0.9" />
<text x="28.0" y="236.7" font-size="7.02" fill="#333" text-anchor="middle" stroke="#333" stroke-width="0.1" >0</text>
<line x1="39.3" y1="237.7" x2="39.3" y2="240.3" stroke="#222" stroke-width="0.8" />
<text x="39.3" y="250.8" font-size="8.21" fill="#333" text-anchor="middle" stroke="#333" stroke-width="0.18" textLength="5.9" lengthAdjust="spacingAndGlyphs" >–9</text>
<line x1="50.4" y1="237.7" x2="50.4" y2="240.3" stroke="#222" stroke-width="0.8" />
<text x="50.4" y="250.8" font-size="8.21" fill="#333" text-anchor="middle" stroke="#333" stroke-width="0.18" textLength="3.4" lengthAdjust="spacingAndGlyphs" >0</text>
<line x1="56.5" y1="237.7" x2="56.5" y2="240.3" stroke="#222" stroke-width="0.8" />
<text x="56.5" y="250.8" font-size="8.21" fill="#333" text-anchor="middle" stroke="#333" stroke-width="0.18" textLength="3.4" lengthAdjust="spacingAndGlyphs" >5</text>
<line x1="65.2" y1="237.7" x2="65.2" y2="240.3" stroke="#222" stroke-width="0.8" />
<text x="65.2" y="250.8" font-size="8.21" fill="#333" text-anchor="middle" stroke="#333" stroke-width="0.18" textLength="5.9" lengthAdjust="spacingAndGlyphs" >12</text>
<line x1="73.8" y1="237.7" x2="73.8" y2="240.3" stroke="#222" stroke-width="0.8" />
<text x="73.8" y="250.8" font-size="8.21" fill="#333" text-anchor="middle" stroke="#333" stroke-width="0.18" textLength="5.9" lengthAdjust="spacingAndGlyphs" >19</text>
<line x1="82.4" y1="237.7" x2="82.4" y2="240.3" stroke="#222" stroke-width="0.8" />
<text x="82.4" y="250.8" font-size="8.21" fill="#333" text-anchor="middle" stroke="#333" stroke-width="0.18" textLength="5.9" lengthAdjust="spacingAndGlyphs" >26</text>
<line x1="91.0" y1="237.7" x2="91.0" y2="240.3" stroke="#222" stroke-width="0.8" />
<text x="91.0" y="250.8" font-size="8.21" fill="#333" text-anchor="middle" stroke="#333" stroke-width="0.18" textLength="5.9" lengthAdjust="spacingAndGlyphs" >33</text>
<line x1="99.6" y1="237.7" x2="99.6" y2="240.3" stroke="#222" stroke-width="0.8" />
<text x="99.6" y="250.8" font-size="8.21" fill="#333" text-anchor="middle" stroke="#333" stroke-width="0.18" textLength="5.9" lengthAdjust="spacingAndGlyphs" >40</text>
<line x1="108.2" y1="237.7" x2="108.2" y2="240.3" stroke="#222" stroke-width="0.8" />
<text x="108.2" y="250.8" font-size="8.21" fill="#333" text-anchor="middle" stroke="#333" stroke-width="0.18" textLength="5.9" lengthAdjust="spacingAndGlyphs" >47</text>
<line x1="116.8" y1="237.7" x2="116.8" y2="240.3" stroke="#222" stroke-width="0.8" />
<text x="116.8" y="250.8" font-size="8.21" fill="#333" text-anchor="middle" stroke="#333" stroke-width="0.18" textLength="5.9" lengthAdjust="spacingAndGlyphs" >54</text>
<text x="82.0" y="155.8" font-size="10.58" fill="#c9c9c9" text-anchor="middle" stroke="#c9c9c9" stroke-width="0.18" textLength="36.0" lengthAdjust="spacingAndGlyphs" >NT + PBS</text>
<text x="118.5" y="232.6" font-size="7.88" fill="#c8c8c8" text-anchor="middle" stroke="#c8c8c8" stroke-width="0.18" textLength="12.6" lengthAdjust="spacingAndGlyphs" >0/10</text>
<text x="15.2" y="199.5" font-size="8.64" fill="#333" text-anchor="middle" stroke="#333" stroke-width="0.18" textLength="55.0" lengthAdjust="spacingAndGlyphs" transform="rotate(-90 15.2 199.5)" >CLL cells [cells/µL]</text>
<polyline points="161.7,195.0 170.3,181.2 179.0,200.5 187.6,202.3 196.2,195.0 206.0,167.5" stroke="#8290bb" fill="none" stroke-width="0.9" stroke-linejoin="round" />
<path d="M203.9,169.1 L208.1,169.1 L206.0,165.6 Z" stroke="none" fill="#23457a" stroke-width="1" />
<polyline points="161.7,198.6 170.3,183.9 179.0,204.2 187.6,206.0 196.2,200.5 204.8,189.4 213.8,167.5" stroke="#8290bb" fill="none" stroke-width="0.9" stroke-linejoin="round" />
<path d="M211.7,169.1 L215.9,169.1 L213.8,165.6 Z" stroke="none" fill="#23457a" stroke-width="1" />
<polyline points="161.7,202.3 170.3,185.8 179.0,206.0 187.6,208.8 196.2,204.2 204.8,193.1 210.8,174.4" stroke="#8290bb" fill="none" stroke-width="0.9" stroke-linejoin="round" />
<path d="M208.7,176.0 L212.9,176.0 L210.8,172.5 Z" stroke="none" fill="#23457a" stroke-width="1" />
<polyline points="161.7,206.0 170.3,187.6 179.0,207.8 187.6,211.5 196.2,206.0 208.1,179.3" stroke="#8290bb" fill="none" stroke-width="0.9" stroke-linejoin="round" />
<path d="M206.0,180.9 L210.2,180.9 L208.1,177.4 Z" stroke="none" fill="#23457a" stroke-width="1" />
<polyline points="161.7,207.8 170.3,189.4 179.0,209.7 187.6,213.4 196.2,207.8 210.3,181.3" stroke="#8290bb" fill="none" stroke-width="0.9" stroke-linejoin="round" />
<path d="M208.2,182.9 L212.4,182.9 L210.3,179.4 Z" stroke="none" fill="#23457a" stroke-width="1" />
<polyline points="161.7,209.7 170.3,191.3 179.0,210.6 187.6,215.2 196.2,209.7 212.9,179.3" stroke="#8290bb" fill="none" stroke-width="0.9" stroke-linejoin="round" />
<path d="M210.8,180.9 L215.0,180.9 L212.9,177.4 Z" stroke="none" fill="#23457a" stroke-width="1" />
<polyline points="161.7,200.5 170.3,193.1 179.0,213.4 187.6,217.0 196.2,210.6 206.0,185.8" stroke="#8290bb" fill="none" stroke-width="0.9" stroke-linejoin="round" />
<path d="M203.9,187.4 L208.1,187.4 L206.0,183.9 Z" stroke="none" fill="#23457a" stroke-width="1" />
<polyline points="161.7,211.5 170.3,192.2 179.0,215.2 187.6,218.9 196.2,213.4 209.2,189.6" stroke="#8290bb" fill="none" stroke-width="0.9" stroke-linejoin="round" />
<path d="M207.1,191.2 L211.3,191.2 L209.2,187.7 Z" stroke="none" fill="#23457a" stroke-width="1" />
<polyline points="161.7,220.7 170.3,196.8 179.0,218.9 187.6,220.7 196.2,215.2 204.8,202.3 209.2,187.6" stroke="#8290bb" fill="none" stroke-width="0.9" stroke-linejoin="round" />
<path d="M207.1,189.2 L211.3,189.2 L209.2,185.7 Z" stroke="none" fill="#23457a" stroke-width="1" />
<polyline points="161.7,215.2 170.3,195.0 179.0,217.0 187.6,231.8 196.2,229.0 204.8,217.0 213.4,200.5 222.0,198.6 227.8,171.2" stroke="#8290bb" fill="none" stroke-width="0.9" stroke-linejoin="round" />
<path d="M225.7,172.8 L229.9,172.8 L227.8,169.3 Z" stroke="none" fill="#23457a" stroke-width="1" />
<line x1="174.0" y1="161.5" x2="174.0" y2="237.5" stroke="#c03a60" stroke-width="1.4" stroke-dasharray="2.2,1.8" />
<line x1="182.6" y1="161.5" x2="182.6" y2="237.5" stroke="#2e5a7a" stroke-width="1.2" stroke-dasharray="2.2,1.8" />
<line x1="156.9" y1="237.7" x2="156.9" y2="165.4" stroke="#111" stroke-width="1.1" />
<path d="M154.8,165.9 L156.9,161.1 L159.0,165.9 Z" stroke="none" fill="#111" stroke-width="1" />
<line x1="156.9" y1="237.7" x2="246.7" y2="237.7" stroke="#111" stroke-width="1.1" />
<path d="M246.2,235.6 L251.0,237.7 L246.2,239.8 Z" stroke="none" fill="#111" stroke-width="1" />
<line x1="154.1" y1="169.2" x2="156.9" y2="169.2" stroke="#222" stroke-width="0.9" />
<text x="142.4" y="171.6" font-size="7.02" fill="#333" text-anchor="start" stroke="#333" stroke-width="0.1" textLength="6.0" lengthAdjust="spacingAndGlyphs" >10</text>
<text x="148.6" y="168.4" font-size="4.54" fill="#333" text-anchor="start" >5</text>
<line x1="154.1" y1="187.6" x2="156.9" y2="187.6" stroke="#222" stroke-width="0.9" />
<text x="142.4" y="190.0" font-size="7.02" fill="#333" text-anchor="start" stroke="#333" stroke-width="0.1" textLength="6.0" lengthAdjust="spacingAndGlyphs" >10</text>
<text x="148.6" y="186.8" font-size="4.54" fill="#333" text-anchor="start" >4</text>
<line x1="154.1" y1="206.0" x2="156.9" y2="206.0" stroke="#222" stroke-width="0.9" />
<text x="142.4" y="208.4" font-size="7.02" fill="#333" text-anchor="start" stroke="#333" stroke-width="0.1" textLength="6.0" lengthAdjust="spacingAndGlyphs" >10</text>
<text x="148.6" y="205.2" font-size="4.54" fill="#333" text-anchor="start" >3</text>
<line x1="154.1" y1="224.4" x2="156.9" y2="224.4" stroke="#222" stroke-width="0.9" />
<text x="142.4" y="226.8" font-size="7.02" fill="#333" text-anchor="start" stroke="#333" stroke-width="0.1" textLength="6.0" lengthAdjust="spacingAndGlyphs" >10</text>
<text x="148.6" y="223.6" font-size="4.54" fill="#333" text-anchor="start" >2</text>
<line x1="154.1" y1="234.3" x2="156.9" y2="234.3" stroke="#222" stroke-width="0.9" />
<text x="150.4" y="236.7" font-size="7.02" fill="#333" text-anchor="middle" stroke="#333" stroke-width="0.1" >0</text>
<line x1="161.7" y1="237.7" x2="161.7" y2="240.3" stroke="#222" stroke-width="0.8" />
<text x="161.7" y="250.8" font-size="8.21" fill="#333" text-anchor="middle" stroke="#333" stroke-width="0.18" textLength="5.9" lengthAdjust="spacingAndGlyphs" >–9</text>
<line x1="172.8" y1="237.7" x2="172.8" y2="240.3" stroke="#222" stroke-width="0.8" />
<text x="172.8" y="250.8" font-size="8.21" fill="#333" text-anchor="middle" stroke="#333" stroke-width="0.18" textLength="3.4" lengthAdjust="spacingAndGlyphs" >0</text>
<line x1="179.0" y1="237.7" x2="179.0" y2="240.3" stroke="#222" stroke-width="0.8" />
<text x="179.0" y="250.8" font-size="8.21" fill="#333" text-anchor="middle" stroke="#333" stroke-width="0.18" textLength="3.4" lengthAdjust="spacingAndGlyphs" >5</text>
<line x1="187.6" y1="237.7" x2="187.6" y2="240.3" stroke="#222" stroke-width="0.8" />
<text x="187.6" y="250.8" font-size="8.21" fill="#333" text-anchor="middle" stroke="#333" stroke-width="0.18" textLength="5.9" lengthAdjust="spacingAndGlyphs" >12</text>
<line x1="196.2" y1="237.7" x2="196.2" y2="240.3" stroke="#222" stroke-width="0.8" />
<text x="196.2" y="250.8" font-size="8.21" fill="#333" text-anchor="middle" stroke="#333" stroke-width="0.18" textLength="5.9" lengthAdjust="spacingAndGlyphs" >19</text>
<line x1="204.8" y1="237.7" x2="204.8" y2="240.3" stroke="#222" stroke-width="0.8" />
<text x="204.8" y="250.8" font-size="8.21" fill="#333" text-anchor="middle" stroke="#333" stroke-width="0.18" textLength="5.9" lengthAdjust="spacingAndGlyphs" >26</text>
<line x1="213.4" y1="237.7" x2="213.4" y2="240.3" stroke="#222" stroke-width="0.8" />
<text x="213.4" y="250.8" font-size="8.21" fill="#333" text-anchor="middle" stroke="#333" stroke-width="0.18" textLength="5.9" lengthAdjust="spacingAndGlyphs" >33</text>
<line x1="222.0" y1="237.7" x2="222.0" y2="240.3" stroke="#222" stroke-width="0.8" />
<text x="222.0" y="250.8" font-size="8.21" fill="#333" text-anchor="middle" stroke="#333" stroke-width="0.18" textLength="5.9" lengthAdjust="spacingAndGlyphs" >40</text>
<line x1="230.6" y1="237.7" x2="230.6" y2="240.3" stroke="#222" stroke-width="0.8" />
<text x="230.6" y="250.8" font-size="8.21" fill="#333" text-anchor="middle" stroke="#333" stroke-width="0.18" textLength="5.9" lengthAdjust="spacingAndGlyphs" >47</text>
<line x1="239.2" y1="237.7" x2="239.2" y2="240.3" stroke="#222" stroke-width="0.8" />
<text x="239.2" y="250.8" font-size="8.21" fill="#333" text-anchor="middle" stroke="#333" stroke-width="0.18" textLength="5.9" lengthAdjust="spacingAndGlyphs" >54</text>
<text x="204.4" y="155.8" font-size="10.58" fill="#3d6296" text-anchor="middle" stroke="#3d6296" stroke-width="0.18" textLength="41.0" lengthAdjust="spacingAndGlyphs" >NT + BsAb</text>
<text x="240.9" y="232.6" font-size="7.88" fill="#4a74a8" text-anchor="middle" stroke="#4a74a8" stroke-width="0.18" textLength="12.6" lengthAdjust="spacingAndGlyphs" >0/10</text>
<polyline points="39.3,313.1 47.9,294.7 56.5,313.1 65.2,316.8 73.8,309.4 83.9,281.4" stroke="#e38470" fill="none" stroke-width="0.9" stroke-linejoin="round" />
<circle cx="83.9" cy="281.4" r="1.6" fill="#c02838" />
<polyline points="39.3,318.6 47.9,300.2 56.5,318.6 65.2,322.3 73.8,313.1 85.3,281.4" stroke="#e38470" fill="none" stroke-width="0.9" stroke-linejoin="round" />
<circle cx="85.3" cy="281.4" r="1.6" fill="#c02838" />
<polyline points="39.3,324.1 47.9,302.0 56.5,322.3 65.2,327.8 73.8,318.6 86.7,282.7" stroke="#e38470" fill="none" stroke-width="0.9" stroke-linejoin="round" />
<circle cx="86.7" cy="282.7" r="1.6" fill="#c02838" />
<polyline points="39.3,309.4 47.9,298.4 56.5,320.4 65.2,331.5 73.8,322.3 82.4,307.6 92.2,280.0" stroke="#e38470" fill="none" stroke-width="0.9" stroke-linejoin="round" />
<circle cx="92.2" cy="280.0" r="1.6" fill="#c02838" />
<polyline points="39.3,333.3 47.9,303.9 56.5,326.0 65.2,342.5 73.8,333.3 82.4,313.1 95.4,280.0" stroke="#e38470" fill="none" stroke-width="0.9" stroke-linejoin="round" />
<circle cx="95.4" cy="280.0" r="1.6" fill="#c02838" />
<polyline points="39.3,316.8 47.9,296.5 56.5,324.1 65.2,346.9 73.8,346.2 82.4,314.9 88.4,288.8" stroke="#e38470" fill="none" stroke-width="0.9" stroke-linejoin="round" />
<circle cx="88.4" cy="288.8" r="1.6" fill="#c02838" />
<polyline points="39.3,320.4 47.9,305.7 56.5,327.8 65.2,346.9 73.8,346.9 82.4,322.3 90.5,288.8" stroke="#e38470" fill="none" stroke-width="0.9" stroke-linejoin="round" />
<circle cx="90.5" cy="288.8" r="1.6" fill="#c02838" />
<polyline points="39.3,314.9 47.9,300.2 56.5,329.6 65.2,346.9 73.8,346.9 82.4,340.7 91.0,320.4 99.6,318.6 104.3,297.3" stroke="#e38470" fill="none" stroke-width="0.9" stroke-linejoin="round" />
<circle cx="104.3" cy="297.3" r="1.6" fill="#c02838" />
<polyline points="39.3,307.6 47.9,291.0 56.5,326.0 65.2,346.9 73.8,346.9 82.4,344.4 91.0,346.9 99.6,346.9 108.2,346.9 116.8,346.9" stroke="#e38470" fill="none" stroke-width="0.9" stroke-linejoin="round" />
<polyline points="39.3,327.8 47.9,307.6 56.5,331.5 65.2,346.9 73.8,346.9 82.4,346.9 91.0,346.9 99.6,346.9 108.2,346.9 116.8,346.9" stroke="#e38470" fill="none" stroke-width="0.9" stroke-linejoin="round" />
<line x1="51.6" y1="274.1" x2="51.6" y2="350.1" stroke="#c03a60" stroke-width="1.4" stroke-dasharray="2.2,1.8" />
<line x1="60.2" y1="274.1" x2="60.2" y2="350.1" stroke="#2e5a7a" stroke-width="1.2" stroke-dasharray="2.2,1.8" />
<line x1="34.5" y1="350.3" x2="34.5" y2="278.0" stroke="#111" stroke-width="1.1" />
<path d="M32.4,278.5 L34.5,273.7 L36.6,278.5 Z" stroke="none" fill="#111" stroke-width="1" />
<line x1="34.5" y1="350.3" x2="124.3" y2="350.3" stroke="#111" stroke-width="1.1" />
<path d="M123.8,348.2 L128.6,350.3 L123.8,352.4 Z" stroke="none" fill="#111" stroke-width="1" />
<line x1="31.7" y1="281.8" x2="34.5" y2="281.8" stroke="#222" stroke-width="0.9" />
<text x="20.0" y="284.2" font-size="7.02" fill="#333" text-anchor="start" stroke="#333" stroke-width="0.1" textLength="6.0" lengthAdjust="spacingAndGlyphs" >10</text>
<text x="26.2" y="281.0" font-size="4.54" fill="#333" text-anchor="start" >5</text>
<line x1="31.7" y1="300.2" x2="34.5" y2="300.2" stroke="#222" stroke-width="0.9" />
<text x="20.0" y="302.6" font-size="7.02" fill="#333" text-anchor="start" stroke="#333" stroke-width="0.1" textLength="6.0" lengthAdjust="spacingAndGlyphs" >10</text>
<text x="26.2" y="299.4" font-size="4.54" fill="#333" text-anchor="start" >4</text>
<line x1="31.7" y1="318.6" x2="34.5" y2="318.6" stroke="#222" stroke-width="0.9" />
<text x="20.0" y="321.0" font-size="7.02" fill="#333" text-anchor="start" stroke="#333" stroke-width="0.1" textLength="6.0" lengthAdjust="spacingAndGlyphs" >10</text>
<text x="26.2" y="317.8" font-size="4.54" fill="#333" text-anchor="start" >3</text>
<line x1="31.7" y1="337.0" x2="34.5" y2="337.0" stroke="#222" stroke-width="0.9" />
<text x="20.0" y="339.4" font-size="7.02" fill="#333" text-anchor="start" stroke="#333" stroke-width="0.1" textLength="6.0" lengthAdjust="spacingAndGlyphs" >10</text>
<text x="26.2" y="336.2" font-size="4.54" fill="#333" text-anchor="start" >2</text>
<line x1="31.7" y1="346.9" x2="34.5" y2="346.9" stroke="#222" stroke-width="0.9" />
<text x="28.0" y="349.3" font-size="7.02" fill="#333" text-anchor="middle" stroke="#333" stroke-width="0.1" >0</text>
<line x1="39.3" y1="350.3" x2="39.3" y2="352.9" stroke="#222" stroke-width="0.8" />
<text x="39.3" y="363.4" font-size="8.21" fill="#333" text-anchor="middle" stroke="#333" stroke-width="0.18" textLength="5.9" lengthAdjust="spacingAndGlyphs" >–9</text>
<line x1="50.4" y1="350.3" x2="50.4" y2="352.9" stroke="#222" stroke-width="0.8" />
<text x="50.4" y="363.4" font-size="8.21" fill="#333" text-anchor="middle" stroke="#333" stroke-width="0.18" textLength="3.4" lengthAdjust="spacingAndGlyphs" >0</text>
<line x1="56.5" y1="350.3" x2="56.5" y2="352.9" stroke="#222" stroke-width="0.8" />
<text x="56.5" y="363.4" font-size="8.21" fill="#333" text-anchor="middle" stroke="#333" stroke-width="0.18" textLength="3.4" lengthAdjust="spacingAndGlyphs" >5</text>
<line x1="65.2" y1="350.3" x2="65.2" y2="352.9" stroke="#222" stroke-width="0.8" />
<text x="65.2" y="363.4" font-size="8.21" fill="#333" text-anchor="middle" stroke="#333" stroke-width="0.18" textLength="5.9" lengthAdjust="spacingAndGlyphs" >12</text>
<line x1="73.8" y1="350.3" x2="73.8" y2="352.9" stroke="#222" stroke-width="0.8" />
<text x="73.8" y="363.4" font-size="8.21" fill="#333" text-anchor="middle" stroke="#333" stroke-width="0.18" textLength="5.9" lengthAdjust="spacingAndGlyphs" >19</text>
<line x1="82.4" y1="350.3" x2="82.4" y2="352.9" stroke="#222" stroke-width="0.8" />
<text x="82.4" y="363.4" font-size="8.21" fill="#333" text-anchor="middle" stroke="#333" stroke-width="0.18" textLength="5.9" lengthAdjust="spacingAndGlyphs" >26</text>
<line x1="91.0" y1="350.3" x2="91.0" y2="352.9" stroke="#222" stroke-width="0.8" />
<text x="91.0" y="363.4" font-size="8.21" fill="#333" text-anchor="middle" stroke="#333" stroke-width="0.18" textLength="5.9" lengthAdjust="spacingAndGlyphs" >33</text>
<line x1="99.6" y1="350.3" x2="99.6" y2="352.9" stroke="#222" stroke-width="0.8" />
<text x="99.6" y="363.4" font-size="8.21" fill="#333" text-anchor="middle" stroke="#333" stroke-width="0.18" textLength="5.9" lengthAdjust="spacingAndGlyphs" >40</text>
<line x1="108.2" y1="350.3" x2="108.2" y2="352.9" stroke="#222" stroke-width="0.8" />
<text x="108.2" y="363.4" font-size="8.21" fill="#333" text-anchor="middle" stroke="#333" stroke-width="0.18" textLength="5.9" lengthAdjust="spacingAndGlyphs" >47</text>
<line x1="116.8" y1="350.3" x2="116.8" y2="352.9" stroke="#222" stroke-width="0.8" />
<text x="116.8" y="363.4" font-size="8.21" fill="#333" text-anchor="middle" stroke="#333" stroke-width="0.18" textLength="5.9" lengthAdjust="spacingAndGlyphs" >54</text>
<text x="82.0" y="268.4" font-size="10.58" fill="#c8405a" text-anchor="middle" stroke="#c8405a" stroke-width="0.18" textLength="42.5" lengthAdjust="spacingAndGlyphs" >CAR + PBS</text>
<text x="118.5" y="345.2" font-size="7.88" fill="#c8405a" text-anchor="middle" stroke="#c8405a" stroke-width="0.18" textLength="12.6" lengthAdjust="spacingAndGlyphs" >2/10</text>
<text x="82.9" y="373.6" font-size="9.72" fill="#333" text-anchor="middle" stroke="#333" stroke-width="0.18" textLength="101.5" lengthAdjust="spacingAndGlyphs" >Time post therapy initiation [days]</text>
<text x="15.2" y="312.1" font-size="8.64" fill="#333" text-anchor="middle" stroke="#333" stroke-width="0.18" textLength="55.0" lengthAdjust="spacingAndGlyphs" transform="rotate(-90 15.2 312.1)" >CLL cells [cells/µL]</text>
<polyline points="161.7,304.8 170.3,292.8 179.0,320.4 187.6,346.9 196.2,346.9 204.8,346.9 213.4,346.9 222.0,346.9 230.6,346.9 239.2,346.9" stroke="#9a7cae" fill="none" stroke-width="0.9" stroke-linejoin="round" />
<polyline points="161.7,309.4 170.3,296.5 179.0,324.1 187.6,346.9 196.2,346.9 204.8,337.6 213.4,346.9 222.0,346.9 230.6,346.9 239.2,346.9" stroke="#9a7cae" fill="none" stroke-width="0.9" stroke-linejoin="round" />
<polyline points="161.7,313.1 170.3,298.4 179.0,326.0 187.6,346.9 196.2,346.9 204.8,344.4 213.4,346.9 222.0,346.9 230.6,346.9 239.2,346.9" stroke="#9a7cae" fill="none" stroke-width="0.9" stroke-linejoin="round" />
<polyline points="161.7,316.8 170.3,301.1 179.0,327.8 187.6,346.9 196.2,346.9 204.8,346.9 213.4,346.9 222.0,346.9 230.6,346.9 239.2,346.9" stroke="#9a7cae" fill="none" stroke-width="0.9" stroke-linejoin="round" />
<polyline points="161.7,318.6 170.3,303.9 179.0,329.6 187.6,346.9 196.2,346.9 204.8,342.5 213.4,346.9 222.0,346.9 230.6,346.9 239.2,346.9" stroke="#9a7cae" fill="none" stroke-width="0.9" stroke-linejoin="round" />
<polyline points="161.7,320.4 170.3,307.6 179.0,331.5 187.6,346.9 196.2,346.9 204.8,346.9 213.4,346.9 222.0,346.9 230.6,346.9 239.2,346.9" stroke="#9a7cae" fill="none" stroke-width="0.9" stroke-linejoin="round" />
<polyline points="161.7,314.9 170.3,311.2 179.0,333.3 187.6,346.9 196.2,346.9 204.8,346.9 213.4,346.9 222.0,346.9 230.6,346.9 239.2,346.9" stroke="#9a7cae" fill="none" stroke-width="0.9" stroke-linejoin="round" />
<polyline points="161.7,322.3 170.3,309.4 179.0,335.2 187.6,346.9 196.2,346.9 204.8,346.9 213.4,346.9 222.0,346.9 230.6,346.9 239.2,346.9" stroke="#9a7cae" fill="none" stroke-width="0.9" stroke-linejoin="round" />
<polyline points="161.7,318.6 170.3,300.2 179.0,327.8 187.6,337.6 196.2,333.3 217.6,281.8" stroke="#9a7cae" fill="none" stroke-width="0.9" stroke-linejoin="round" />
<path d="M215.5,280.2 L219.7,280.2 L217.6,283.7 Z" stroke="none" fill="#2a2a2a" stroke-width="1" />
<polyline points="161.7,329.6 170.3,305.7 179.0,331.5 187.6,346.9 196.2,346.9 204.8,346.9 207.0,346.9 213.4,318.6 227.8,280.0" stroke="#9a7cae" fill="none" stroke-width="0.9" stroke-linejoin="round" />
<path d="M225.7,278.4 L229.9,278.4 L227.8,281.9 Z" stroke="none" fill="#2a2a2a" stroke-width="1" />
<line x1="174.0" y1="274.1" x2="174.0" y2="350.1" stroke="#c03a60" stroke-width="1.4" stroke-dasharray="2.2,1.8" />
<line x1="182.6" y1="274.1" x2="182.6" y2="350.1" stroke="#2e5a7a" stroke-width="1.2" stroke-dasharray="2.2,1.8" />
<line x1="156.9" y1="350.3" x2="156.9" y2="278.0" stroke="#111" stroke-width="1.1" />
<path d="M154.8,278.5 L156.9,273.7 L159.0,278.5 Z" stroke="none" fill="#111" stroke-width="1" />
<line x1="156.9" y1="350.3" x2="246.7" y2="350.3" stroke="#111" stroke-width="1.1" />
<path d="M246.2,348.2 L251.0,350.3 L246.2,352.4 Z" stroke="none" fill="#111" stroke-width="1" />
<line x1="154.1" y1="281.8" x2="156.9" y2="281.8" stroke="#222" stroke-width="0.9" />
<text x="142.4" y="284.2" font-size="7.02" fill="#333" text-anchor="start" stroke="#333" stroke-width="0.1" textLength="6.0" lengthAdjust="spacingAndGlyphs" >10</text>
<text x="148.6" y="281.0" font-size="4.54" fill="#333" text-anchor="start" >5</text>
<line x1="154.1" y1="300.2" x2="156.9" y2="300.2" stroke="#222" stroke-width="0.9" />
<text x="142.4" y="302.6" font-size="7.02" fill="#333" text-anchor="start" stroke="#333" stroke-width="0.1" textLength="6.0" lengthAdjust="spacingAndGlyphs" >10</text>
<text x="148.6" y="299.4" font-size="4.54" fill="#333" text-anchor="start" >4</text>
<line x1="154.1" y1="318.6" x2="156.9" y2="318.6" stroke="#222" stroke-width="0.9" />
<text x="142.4" y="321.0" font-size="7.02" fill="#333" text-anchor="start" stroke="#333" stroke-width="0.1" textLength="6.0" lengthAdjust="spacingAndGlyphs" >10</text>
<text x="148.6" y="317.8" font-size="4.54" fill="#333" text-anchor="start" >3</text>
<line x1="154.1" y1="337.0" x2="156.9" y2="337.0" stroke="#222" stroke-width="0.9" />
<text x="142.4" y="339.4" font-size="7.02" fill="#333" text-anchor="start" stroke="#333" stroke-width="0.1" textLength="6.0" lengthAdjust="spacingAndGlyphs" >10</text>
<text x="148.6" y="336.2" font-size="4.54" fill="#333" text-anchor="start" >2</text>
<line x1="154.1" y1="346.9" x2="156.9" y2="346.9" stroke="#222" stroke-width="0.9" />
<text x="150.4" y="349.3" font-size="7.02" fill="#333" text-anchor="middle" stroke="#333" stroke-width="0.1" >0</text>
<line x1="161.7" y1="350.3" x2="161.7" y2="352.9" stroke="#222" stroke-width="0.8" />
<text x="161.7" y="363.4" font-size="8.21" fill="#333" text-anchor="middle" stroke="#333" stroke-width="0.18" textLength="5.9" lengthAdjust="spacingAndGlyphs" >–9</text>
<line x1="172.8" y1="350.3" x2="172.8" y2="352.9" stroke="#222" stroke-width="0.8" />
<text x="172.8" y="363.4" font-size="8.21" fill="#333" text-anchor="middle" stroke="#333" stroke-width="0.18" textLength="3.4" lengthAdjust="spacingAndGlyphs" >0</text>
<line x1="179.0" y1="350.3" x2="179.0" y2="352.9" stroke="#222" stroke-width="0.8" />
<text x="179.0" y="363.4" font-size="8.21" fill="#333" text-anchor="middle" stroke="#333" stroke-width="0.18" textLength="3.4" lengthAdjust="spacingAndGlyphs" >5</text>
<line x1="187.6" y1="350.3" x2="187.6" y2="352.9" stroke="#222" stroke-width="0.8" />
<text x="187.6" y="363.4" font-size="8.21" fill="#333" text-anchor="middle" stroke="#333" stroke-width="0.18" textLength="5.9" lengthAdjust="spacingAndGlyphs" >12</text>
<line x1="196.2" y1="350.3" x2="196.2" y2="352.9" stroke="#222" stroke-width="0.8" />
<text x="196.2" y="363.4" font-size="8.21" fill="#333" text-anchor="middle" stroke="#333" stroke-width="0.18" textLength="5.9" lengthAdjust="spacingAndGlyphs" >19</text>
<line x1="204.8" y1="350.3" x2="204.8" y2="352.9" stroke="#222" stroke-width="0.8" />
<text x="204.8" y="363.4" font-size="8.21" fill="#333" text-anchor="middle" stroke="#333" stroke-width="0.18" textLength="5.9" lengthAdjust="spacingAndGlyphs" >26</text>
<line x1="213.4" y1="350.3" x2="213.4" y2="352.9" stroke="#222" stroke-width="0.8" />
<text x="213.4" y="363.4" font-size="8.21" fill="#333" text-anchor="middle" stroke="#333" stroke-width="0.18" textLength="5.9" lengthAdjust="spacingAndGlyphs" >33</text>
<line x1="222.0" y1="350.3" x2="222.0" y2="352.9" stroke="#222" stroke-width="0.8" />
<text x="222.0" y="363.4" font-size="8.21" fill="#333" text-anchor="middle" stroke="#333" stroke-width="0.18" textLength="5.9" lengthAdjust="spacingAndGlyphs" >40</text>
<line x1="230.6" y1="350.3" x2="230.6" y2="352.9" stroke="#222" stroke-width="0.8" />
<text x="230.6" y="363.4" font-size="8.21" fill="#333" text-anchor="middle" stroke="#333" stroke-width="0.18" textLength="5.9" lengthAdjust="spacingAndGlyphs" >47</text>
<line x1="239.2" y1="350.3" x2="239.2" y2="352.9" stroke="#222" stroke-width="0.8" />
<text x="239.2" y="363.4" font-size="8.21" fill="#333" text-anchor="middle" stroke="#333" stroke-width="0.18" textLength="5.9" lengthAdjust="spacingAndGlyphs" >54</text>
<text x="204.4" y="268.4" font-size="10.58" fill="#6c4c8c" text-anchor="middle" stroke="#6c4c8c" stroke-width="0.18" textLength="47.5" lengthAdjust="spacingAndGlyphs" >CAR + BsAb</text>
<text x="240.9" y="345.2" font-size="7.88" fill="#7a5a9a" text-anchor="middle" stroke="#7a5a9a" stroke-width="0.18" textLength="12.6" lengthAdjust="spacingAndGlyphs" >8/10</text>
<text x="205.3" y="373.6" font-size="9.72" fill="#333" text-anchor="middle" stroke="#333" stroke-width="0.18" textLength="101.5" lengthAdjust="spacingAndGlyphs" >Time post therapy initiation [days]</text>
<text x="271.7" y="225.6" font-size="10.8" fill="#111" text-anchor="start" font-weight="bold" stroke="#111" stroke-width="0.35" textLength="8.0" lengthAdjust="spacingAndGlyphs" >D</text>
<polyline points="345.2,232.0 361.5,232.0 361.5,241.8 363.8,241.8 363.8,251.5 365.5,251.5 365.5,261.3 370.7,261.3 370.7,271.1 374.7,271.1 374.7,290.6 381.4,290.6 381.4,300.4 397.9,300.4 397.9,310.2 434.6,310.2" stroke="#c8384e" fill="none" stroke-width="1.25" stroke-linejoin="round" />
<polyline points="345.2,232.0 358.6,232.0 358.6,241.8 361.5,241.8 361.5,251.5 363.8,251.5 363.8,271.1 365.5,271.1 365.5,280.8 368.4,280.8 368.4,290.6 373.6,290.6 373.6,300.4 374.7,300.4 374.7,319.9 399.5,319.9 399.5,329.7" stroke="#2f5d7c" fill="none" stroke-width="1.25" stroke-linejoin="round" />
<polyline points="345.2,232.0 381.6,232.0 381.6,241.8 399.5,241.8 399.5,251.5 434.6,251.5" stroke="#5c3f6e" fill="none" stroke-width="1.25" stroke-linejoin="round" />
<polyline points="300.5,232.0 356.4,232.0 356.4,251.5 363.8,251.5 363.8,290.6 365.5,290.6 365.5,319.9 367.8,319.9 367.8,329.7" stroke="#c8c8c8" fill="none" stroke-width="1.2" stroke-linejoin="round" />
<line x1="300.5" y1="329.7" x2="300.5" y2="231.9" stroke="#111" stroke-width="1.1" />
<path d="M298.9,232.4 L300.5,229.4 L302.1,232.4 Z" stroke="none" fill="#111" stroke-width="1" />
<line x1="300.5" y1="329.7" x2="435.1" y2="329.7" stroke="#111" stroke-width="1.1" />
<line x1="297.7" y1="329.7" x2="300.5" y2="329.7" stroke="#222" stroke-width="0.9" />
<line x1="298.9" y1="319.9" x2="300.5" y2="319.9" stroke="#222" stroke-width="0.9" />
<line x1="297.7" y1="310.2" x2="300.5" y2="310.2" stroke="#222" stroke-width="0.9" />
<line x1="298.9" y1="300.4" x2="300.5" y2="300.4" stroke="#222" stroke-width="0.9" />
<line x1="297.7" y1="290.6" x2="300.5" y2="290.6" stroke="#222" stroke-width="0.9" />
<line x1="298.9" y1="280.8" x2="300.5" y2="280.8" stroke="#222" stroke-width="0.9" />
<line x1="297.7" y1="271.1" x2="300.5" y2="271.1" stroke="#222" stroke-width="0.9" />
<line x1="298.9" y1="261.3" x2="300.5" y2="261.3" stroke="#222" stroke-width="0.9" />
<line x1="297.7" y1="251.5" x2="300.5" y2="251.5" stroke="#222" stroke-width="0.9" />
<line x1="298.9" y1="241.8" x2="300.5" y2="241.8" stroke="#222" stroke-width="0.9" />
<line x1="297.7" y1="232.0" x2="300.5" y2="232.0" stroke="#222" stroke-width="0.9" />
<text x="294.2" y="332.2" font-size="7.56" fill="#333" text-anchor="end" stroke="#333" stroke-width="0.18" textLength="3.4" lengthAdjust="spacingAndGlyphs" >0</text>
<text x="294.2" y="312.7" font-size="7.56" fill="#333" text-anchor="end" stroke="#333" stroke-width="0.18" textLength="6.8" lengthAdjust="spacingAndGlyphs" >20</text>
<text x="294.2" y="293.1" font-size="7.56" fill="#333" text-anchor="end" stroke="#333" stroke-width="0.18" textLength="6.8" lengthAdjust="spacingAndGlyphs" >40</text>
<text x="294.2" y="273.6" font-size="7.56" fill="#333" text-anchor="end" stroke="#333" stroke-width="0.18" textLength="6.8" lengthAdjust="spacingAndGlyphs" >60</text>
<text x="294.2" y="254.0" font-size="7.56" fill="#333" text-anchor="end" stroke="#333" stroke-width="0.18" textLength="6.8" lengthAdjust="spacingAndGlyphs" >80</text>
<text x="294.2" y="234.5" font-size="7.56" fill="#333" text-anchor="end" stroke="#333" stroke-width="0.18" textLength="10.2" lengthAdjust="spacingAndGlyphs" >100</text>
<line x1="300.5" y1="329.7" x2="300.5" y2="332.3" stroke="#222" stroke-width="0.9" />
<text x="300.5" y="341.3" font-size="7.88" fill="#333" text-anchor="middle" stroke="#333" stroke-width="0.18" >0</text>
<line x1="305.0" y1="328.1" x2="305.0" y2="329.7" stroke="#222" stroke-width="0.8" />
<line x1="309.4" y1="328.1" x2="309.4" y2="329.7" stroke="#222" stroke-width="0.8" />
<line x1="313.9" y1="328.1" x2="313.9" y2="329.7" stroke="#222" stroke-width="0.8" />
<line x1="318.4" y1="328.1" x2="318.4" y2="329.7" stroke="#222" stroke-width="0.8" />
<line x1="322.9" y1="329.7" x2="322.9" y2="332.3" stroke="#222" stroke-width="0.9" />
<text x="322.9" y="341.3" font-size="7.88" fill="#333" text-anchor="middle" stroke="#333" stroke-width="0.18" >10</text>
<line x1="327.3" y1="328.1" x2="327.3" y2="329.7" stroke="#222" stroke-width="0.8" />
<line x1="331.8" y1="328.1" x2="331.8" y2="329.7" stroke="#222" stroke-width="0.8" />
<line x1="336.3" y1="328.1" x2="336.3" y2="329.7" stroke="#222" stroke-width="0.8" />
<line x1="340.7" y1="328.1" x2="340.7" y2="329.7" stroke="#222" stroke-width="0.8" />
<line x1="345.2" y1="329.7" x2="345.2" y2="332.3" stroke="#222" stroke-width="0.9" />
<text x="345.2" y="341.3" font-size="7.88" fill="#333" text-anchor="middle" stroke="#333" stroke-width="0.18" >20</text>
<line x1="349.7" y1="328.1" x2="349.7" y2="329.7" stroke="#222" stroke-width="0.8" />
<line x1="354.1" y1="328.1" x2="354.1" y2="329.7" stroke="#222" stroke-width="0.8" />
<line x1="358.6" y1="328.1" x2="358.6" y2="329.7" stroke="#222" stroke-width="0.8" />
<line x1="363.1" y1="328.1" x2="363.1" y2="329.7" stroke="#222" stroke-width="0.8" />
<line x1="367.6" y1="329.7" x2="367.6" y2="332.3" stroke="#222" stroke-width="0.9" />
<text x="367.6" y="341.3" font-size="7.88" fill="#333" text-anchor="middle" stroke="#333" stroke-width="0.18" >30</text>
<line x1="372.0" y1="328.1" x2="372.0" y2="329.7" stroke="#222" stroke-width="0.8" />
<line x1="376.5" y1="328.1" x2="376.5" y2="329.7" stroke="#222" stroke-width="0.8" />
<line x1="381.0" y1="328.1" x2="381.0" y2="329.7" stroke="#222" stroke-width="0.8" />
<line x1="385.4" y1="328.1" x2="385.4" y2="329.7" stroke="#222" stroke-width="0.8" />
<line x1="389.9" y1="329.7" x2="389.9" y2="332.3" stroke="#222" stroke-width="0.9" />
<text x="389.9" y="341.3" font-size="7.88" fill="#333" text-anchor="middle" stroke="#333" stroke-width="0.18" >40</text>
<line x1="394.4" y1="328.1" x2="394.4" y2="329.7" stroke="#222" stroke-width="0.8" />
<line x1="398.8" y1="328.1" x2="398.8" y2="329.7" stroke="#222" stroke-width="0.8" />
<line x1="403.3" y1="328.1" x2="403.3" y2="329.7" stroke="#222" stroke-width="0.8" />
<line x1="407.8" y1="328.1" x2="407.8" y2="329.7" stroke="#222" stroke-width="0.8" />
<line x1="412.2" y1="329.7" x2="412.2" y2="332.3" stroke="#222" stroke-width="0.9" />
<text x="412.2" y="341.3" font-size="7.88" fill="#333" text-anchor="middle" stroke="#333" stroke-width="0.18" >50</text>
<line x1="416.7" y1="328.1" x2="416.7" y2="329.7" stroke="#222" stroke-width="0.8" />
<line x1="421.2" y1="328.1" x2="421.2" y2="329.7" stroke="#222" stroke-width="0.8" />
<line x1="425.7" y1="328.1" x2="425.7" y2="329.7" stroke="#222" stroke-width="0.8" />
<line x1="430.1" y1="328.1" x2="430.1" y2="329.7" stroke="#222" stroke-width="0.8" />
<line x1="434.6" y1="329.7" x2="434.6" y2="332.3" stroke="#222" stroke-width="0.9" />
<text x="434.6" y="341.3" font-size="7.88" fill="#333" text-anchor="middle" stroke="#333" stroke-width="0.18" >60</text>
<text x="279.0" y="279.0" font-size="8.64" fill="#333" text-anchor="middle" stroke="#333" stroke-width="0.18" textLength="34.7" lengthAdjust="spacingAndGlyphs" transform="rotate(-90 279.0 279.0)" >Survival [%]</text>
<text x="319.3" y="352.8" font-size="9.72" fill="#333" text-anchor="start" stroke="#333" stroke-width="0.18" textLength="101.0" lengthAdjust="spacingAndGlyphs" >Time post therapy initiation [days]</text>
<line x1="302.7" y1="322.5" x2="302.7" y2="326.9" stroke="#c8384e" stroke-width="0.9" />
<path d="M301.2,326.4 L302.7,329.4 L304.2,326.4 Z" stroke="none" fill="#c8384e" stroke-width="1" />
<line x1="318.4" y1="322.5" x2="318.4" y2="326.9" stroke="#23406a" stroke-width="0.9" />
<path d="M316.9,326.4 L318.4,329.4 L319.9,326.4 Z" stroke="none" fill="#23406a" stroke-width="1" />
<line x1="334.0" y1="322.5" x2="334.0" y2="326.9" stroke="#23406a" stroke-width="0.9" />
<path d="M332.5,326.4 L334.0,329.4 L335.5,326.4 Z" stroke="none" fill="#23406a" stroke-width="1" />
<line x1="349.7" y1="322.5" x2="349.7" y2="326.9" stroke="#23406a" stroke-width="0.9" />
<path d="M348.2,326.4 L349.7,329.4 L351.2,326.4 Z" stroke="none" fill="#23406a" stroke-width="1" />
<line x1="365.3" y1="322.5" x2="365.3" y2="326.9" stroke="#23406a" stroke-width="0.9" />
<path d="M363.8,326.4 L365.3,329.4 L366.8,326.4 Z" stroke="none" fill="#23406a" stroke-width="1" />
<line x1="381.0" y1="322.5" x2="381.0" y2="326.9" stroke="#23406a" stroke-width="0.9" />
<path d="M379.5,326.4 L381.0,329.4 L382.5,326.4 Z" stroke="none" fill="#23406a" stroke-width="1" />
<line x1="396.6" y1="322.5" x2="396.6" y2="326.9" stroke="#23406a" stroke-width="0.9" />
<path d="M395.1,326.4 L396.6,329.4 L398.1,326.4 Z" stroke="none" fill="#23406a" stroke-width="1" />
<line x1="412.2" y1="322.5" x2="412.2" y2="326.9" stroke="#23406a" stroke-width="0.9" />
<path d="M410.8,326.4 L412.2,329.4 L413.8,326.4 Z" stroke="none" fill="#23406a" stroke-width="1" />
<line x1="441.6" y1="233.9" x2="448.8" y2="233.9" stroke="#6a4a7c" stroke-width="1.4" />
<text x="452.7" y="236.4" font-size="7.45" fill="#333" text-anchor="start" stroke="#333" stroke-width="0.18" textLength="36.3" lengthAdjust="spacingAndGlyphs" >CAR + BsAb</text>
<line x1="441.6" y1="243.5" x2="448.8" y2="243.5" stroke="#c0405a" stroke-width="1.4" />
<text x="452.7" y="246.0" font-size="7.45" fill="#333" text-anchor="start" stroke="#333" stroke-width="0.18" textLength="32.5" lengthAdjust="spacingAndGlyphs" >CAR + PBS</text>
<line x1="441.6" y1="253.5" x2="448.8" y2="253.5" stroke="#3a7090" stroke-width="1.4" />
<text x="452.7" y="256.0" font-size="7.45" fill="#333" text-anchor="start" stroke="#333" stroke-width="0.18" textLength="32.5" lengthAdjust="spacingAndGlyphs" >NT + BsAb</text>
<line x1="441.6" y1="263.2" x2="448.8" y2="263.2" stroke="#c8c8c8" stroke-width="1.4" />
<text x="452.7" y="265.7" font-size="7.45" fill="#333" text-anchor="start" stroke="#333" stroke-width="0.18" textLength="27.5" lengthAdjust="spacingAndGlyphs" >NT + PBS</text>
<path d="M489.4,234 L491.2,234 L491.2,243.5 L489.4,243.5" stroke="#333" fill="none" stroke-width="1.0" />
<text x="492.6" y="238.8" font-size="7.56" fill="#333" text-anchor="middle" stroke="#333" stroke-width="0.18" textLength="4.8" lengthAdjust="spacingAndGlyphs" transform="rotate(90 492.6 238.8)" >**</text>
<path d="M498.7,234.3 L500.5,234.3 L500.5,252.3 L498.7,252.3" stroke="#333" fill="none" stroke-width="1.0" />
<text x="501.9" y="243.3" font-size="7.56" fill="#333" text-anchor="middle" stroke="#333" stroke-width="0.18" textLength="9.6" lengthAdjust="spacingAndGlyphs" transform="rotate(90 501.9 243.3)" >****</text>
<path d="M489.4,253.5 L491.2,253.5 L491.2,263.2 L489.4,263.2" stroke="#333" fill="none" stroke-width="1.0" />
<text x="492.2" y="258.4" font-size="7.56" fill="#333" text-anchor="middle" stroke="#333" stroke-width="0.18" textLength="6.0" lengthAdjust="spacingAndGlyphs" transform="rotate(90 492.2 258.4)" >ns</text>
<path d="M505.59999999999997,243 L507.4,243 L507.4,262.7 L505.59999999999997,262.7" stroke="#333" fill="none" stroke-width="1.0" />
<text x="508.8" y="252.8" font-size="7.56" fill="#333" text-anchor="middle" stroke="#333" stroke-width="0.18" textLength="4.8" lengthAdjust="spacingAndGlyphs" transform="rotate(90 508.8 252.8)" >**</text>
<line x1="445.0" y1="311.0" x2="445.0" y2="317.0" stroke="#c8384e" stroke-width="0.9" />
<path d="M443.5,316.5 L445.0,319.5 L446.5,316.5 Z" stroke="none" fill="#c8384e" stroke-width="1" />
<text x="449.7" y="317.6" font-size="7.45" fill="#333" text-anchor="start" stroke="#333" stroke-width="0.18" textLength="56.5" lengthAdjust="spacingAndGlyphs" >CAR or NT injection</text>
<line x1="445.0" y1="321.5" x2="445.0" y2="327.5" stroke="#23406a" stroke-width="0.9" />
<path d="M443.5,327.0 L445.0,330.0 L446.5,327.0 Z" stroke="none" fill="#23406a" stroke-width="1" />
<text x="449.7" y="328.0" font-size="7.45" fill="#333" text-anchor="start" stroke="#333" stroke-width="0.18" textLength="61.2" lengthAdjust="spacingAndGlyphs" >BsAb or PBS injection</text>
<text x="7.4" y="400.2" font-size="10.8" fill="#111" text-anchor="start" font-weight="bold" stroke="#111" stroke-width="0.35" textLength="6.6" lengthAdjust="spacingAndGlyphs" >E</text>
<text x="29.0" y="410.5" font-size="10.04" fill="#333" text-anchor="start" stroke="#333" stroke-width="0.18" textLength="79.3" lengthAdjust="spacingAndGlyphs" >Blood T cells, Day 12</text>
<path d="M111,410.3 L111,408.3 L141,408.3" stroke="#222" fill="none" stroke-width="1.0" />
<path d="M140.5,406.2 L144.8,408.3 L140.5,410.4 Z" stroke="none" fill="#111" stroke-width="1" />
<text x="147.8" y="410.8" font-size="10.04" fill="#333" text-anchor="start" stroke="#333" stroke-width="0.18" textLength="47.4" lengthAdjust="spacingAndGlyphs" >endogenous</text>
<text x="233.5" y="410.5" font-size="10.04" fill="#333" text-anchor="middle" stroke="#333" stroke-width="0.18" textLength="17.2" lengthAdjust="spacingAndGlyphs" >CAR</text>
<line x1="40.0" y1="415.9" x2="40.0" y2="510.2" stroke="#111" stroke-width="1.1" />
<line x1="40.0" y1="510.2" x2="79.6" y2="510.2" stroke="#111" stroke-width="1.1" />
<line x1="37.5" y1="442.1" x2="40.0" y2="442.1" stroke="#222" stroke-width="0.9" />
<line x1="37.5" y1="474.2" x2="40.0" y2="474.2" stroke="#222" stroke-width="0.9" />
<line x1="37.5" y1="499.6" x2="40.0" y2="499.6" stroke="#222" stroke-width="0.9" />
<line x1="37.5" y1="505.3" x2="40.0" y2="505.3" stroke="#222" stroke-width="0.9" />
<text x="33.3" y="444.6" font-size="7.56" fill="#333" text-anchor="end" stroke="#333" stroke-width="0.18" textLength="13.2" lengthAdjust="spacingAndGlyphs" >1000</text>
<text x="33.3" y="476.7" font-size="7.56" fill="#333" text-anchor="end" stroke="#333" stroke-width="0.18" textLength="9.9" lengthAdjust="spacingAndGlyphs" >100</text>
<text x="33.3" y="502.1" font-size="7.56" fill="#333" text-anchor="end" stroke="#333" stroke-width="0.18" textLength="6.6" lengthAdjust="spacingAndGlyphs" >10</text>
<text x="33.3" y="507.8" font-size="7.56" fill="#333" text-anchor="end" stroke="#333" stroke-width="0.18" textLength="3.3" lengthAdjust="spacingAndGlyphs" >1</text>
<line x1="88.7" y1="415.9" x2="88.7" y2="510.2" stroke="#111" stroke-width="1.1" />
<line x1="88.7" y1="510.2" x2="129.1" y2="510.2" stroke="#111" stroke-width="1.1" />
<line x1="86.2" y1="442.1" x2="88.7" y2="442.1" stroke="#222" stroke-width="0.9" />
<line x1="86.2" y1="474.2" x2="88.7" y2="474.2" stroke="#222" stroke-width="0.9" />
<line x1="86.2" y1="499.6" x2="88.7" y2="499.6" stroke="#222" stroke-width="0.9" />
<line x1="86.2" y1="505.3" x2="88.7" y2="505.3" stroke="#222" stroke-width="0.9" />
<line x1="151.4" y1="415.9" x2="151.4" y2="510.2" stroke="#111" stroke-width="1.1" />
<line x1="151.4" y1="510.2" x2="191.8" y2="510.2" stroke="#111" stroke-width="1.1" />
<line x1="148.9" y1="442.1" x2="151.4" y2="442.1" stroke="#222" stroke-width="0.9" />
<line x1="148.9" y1="474.5" x2="151.4" y2="474.5" stroke="#222" stroke-width="0.9" />
<line x1="148.9" y1="499.1" x2="151.4" y2="499.1" stroke="#222" stroke-width="0.9" />
<line x1="148.9" y1="505.9" x2="151.4" y2="505.9" stroke="#222" stroke-width="0.9" />
<line x1="213.6" y1="415.9" x2="213.6" y2="510.2" stroke="#111" stroke-width="1.1" />
<line x1="213.6" y1="510.2" x2="253.5" y2="510.2" stroke="#111" stroke-width="1.1" />
<line x1="211.1" y1="442.1" x2="213.6" y2="442.1" stroke="#222" stroke-width="0.9" />
<line x1="211.1" y1="473.8" x2="213.6" y2="473.8" stroke="#222" stroke-width="0.9" />
<line x1="211.1" y1="499.4" x2="213.6" y2="499.4" stroke="#222" stroke-width="0.9" />
<line x1="211.1" y1="505.9" x2="213.6" y2="505.9" stroke="#222" stroke-width="0.9" />
<line x1="50.2" y1="451.8" x2="50.2" y2="466.0" stroke="#c8c8c8" stroke-width="0.8" />
<rect x="43.7" y="456.4" width="13.0" height="3.6" fill="#d4d4d4" stroke="none" stroke-width="1" />
<line x1="43.7" y1="458.2" x2="56.7" y2="458.2" stroke="#bdbdbd" stroke-width="0.8" />
<circle cx="47.2" cy="457.0" r="0.85" fill="#bdbdbd" />
<circle cx="52.2" cy="459.0" r="0.85" fill="#bdbdbd" />
<circle cx="54.2" cy="456.0" r="0.85" fill="#bdbdbd" />
<circle cx="49.2" cy="460.0" r="0.85" fill="#bdbdbd" />
<circle cx="51.2" cy="455.0" r="0.85" fill="#bdbdbd" />
<line x1="69.2" y1="432.5" x2="69.2" y2="465.0" stroke="#456ea3" stroke-width="0.8" />
<rect x="62.2" y="443.8" width="14.0" height="14.0" fill="#7f98c4" stroke="none" stroke-width="1" />
<line x1="62.2" y1="449.5" x2="76.2" y2="449.5" stroke="#1d4b82" stroke-width="0.8" />
<circle cx="69.2" cy="433.0" r="0.85" fill="#1d4b82" />
<circle cx="70.2" cy="437.0" r="0.85" fill="#1d4b82" />
<circle cx="68.2" cy="444.0" r="0.85" fill="#1d4b82" />
<circle cx="71.2" cy="447.0" r="0.85" fill="#1d4b82" />
<circle cx="69.2" cy="451.0" r="0.85" fill="#1d4b82" />
<circle cx="72.2" cy="454.0" r="0.85" fill="#1d4b82" />
<circle cx="67.2" cy="457.0" r="0.85" fill="#1d4b82" />
<circle cx="70.2" cy="461.0" r="0.85" fill="#1d4b82" />
<circle cx="69.2" cy="465.0" r="0.85" fill="#1d4b82" />
<circle cx="67.2" cy="463.0" r="0.85" fill="#1d4b82" />
<line x1="100.2" y1="460.0" x2="100.2" y2="476.2" stroke="#d9574f" stroke-width="0.8" />
<rect x="93.4" y="466.2" width="13.7" height="6.7" fill="#ec8a78" stroke="none" stroke-width="1" />
<line x1="93.4" y1="469.5" x2="107.0" y2="469.5" stroke="#c8283a" stroke-width="0.8" />
<circle cx="100.2" cy="461.0" r="0.85" fill="#c8283a" />
<circle cx="98.2" cy="467.0" r="0.85" fill="#c8283a" />
<circle cx="102.2" cy="468.0" r="0.85" fill="#c8283a" />
<circle cx="100.2" cy="470.0" r="0.85" fill="#c8283a" />
<circle cx="97.2" cy="472.0" r="0.85" fill="#c8283a" />
<circle cx="103.2" cy="474.0" r="0.85" fill="#c8283a" />
<circle cx="100.2" cy="476.0" r="0.85" fill="#c8283a" />
<circle cx="101.2" cy="465.0" r="0.85" fill="#c8283a" />
<line x1="118.4" y1="450.5" x2="118.4" y2="476.2" stroke="#7d56a0" stroke-width="0.8" />
<rect x="111.9" y="452.7" width="13.0" height="13.5" fill="#a487bd" stroke="none" stroke-width="1" />
<line x1="111.9" y1="461.4" x2="124.9" y2="461.4" stroke="#4e246c" stroke-width="0.8" />
<circle cx="118.4" cy="452.0" r="0.85" fill="#4e246c" />
<circle cx="120.4" cy="456.0" r="0.85" fill="#4e246c" />
<circle cx="117.4" cy="460.0" r="0.85" fill="#4e246c" />
<circle cx="118.4" cy="468.0" r="0.85" fill="#4e246c" />
<circle cx="118.4" cy="472.0" r="0.85" fill="#4e246c" />
<circle cx="118.4" cy="476.0" r="0.85" fill="#4e246c" />
<line x1="162.2" y1="460.4" x2="162.2" y2="476.5" stroke="#d9574f" stroke-width="0.8" />
<rect x="155.4" y="467.1" width="13.5" height="6.1" fill="#ec8a78" stroke="none" stroke-width="1" />
<line x1="155.4" y1="470.0" x2="168.9" y2="470.0" stroke="#c8283a" stroke-width="0.8" />
<circle cx="162.2" cy="461.0" r="0.85" fill="#c8283a" />
<circle cx="160.2" cy="466.0" r="0.85" fill="#c8283a" />
<circle cx="164.2" cy="468.0" r="0.85" fill="#c8283a" />
<circle cx="162.2" cy="470.0" r="0.85" fill="#c8283a" />
<circle cx="159.2" cy="472.0" r="0.85" fill="#c8283a" />
<circle cx="165.2" cy="474.0" r="0.85" fill="#c8283a" />
<circle cx="162.2" cy="476.5" r="0.85" fill="#c8283a" />
<circle cx="163.2" cy="464.0" r="0.85" fill="#c8283a" />
<line x1="180.7" y1="452.9" x2="180.7" y2="476.5" stroke="#7d56a0" stroke-width="0.8" />
<rect x="173.6" y="459.0" width="14.2" height="8.8" fill="#a487bd" stroke="none" stroke-width="1" />
<line x1="173.6" y1="463.5" x2="187.8" y2="463.5" stroke="#4e246c" stroke-width="0.8" />
<circle cx="180.7" cy="453.0" r="0.85" fill="#4e246c" />
<circle cx="182.7" cy="460.0" r="0.85" fill="#4e246c" />
<circle cx="179.7" cy="463.0" r="0.85" fill="#4e246c" />
<circle cx="180.7" cy="469.0" r="0.85" fill="#4e246c" />
<circle cx="180.7" cy="472.5" r="0.85" fill="#4e246c" />
<circle cx="180.7" cy="476.5" r="0.85" fill="#4e246c" />
<line x1="224.2" y1="487.3" x2="224.2" y2="506.8" stroke="#d9574f" stroke-width="0.8" />
<rect x="217.2" y="499.4" width="13.9" height="6.1" fill="#ec8a78" stroke="none" stroke-width="1" />
<line x1="217.2" y1="502.5" x2="231.1" y2="502.5" stroke="#c8283a" stroke-width="0.8" />
<circle cx="224.2" cy="488.0" r="0.85" fill="#c8283a" />
<circle cx="224.2" cy="492.0" r="0.85" fill="#c8283a" />
<circle cx="221.2" cy="500.0" r="0.85" fill="#c8283a" />
<circle cx="226.2" cy="502.0" r="0.85" fill="#c8283a" />
<circle cx="223.2" cy="504.0" r="0.85" fill="#c8283a" />
<circle cx="227.2" cy="505.0" r="0.85" fill="#c8283a" />
<circle cx="224.2" cy="506.5" r="0.85" fill="#c8283a" />
<line x1="242.7" y1="464.4" x2="242.7" y2="506.0" stroke="#7d56a0" stroke-width="0.8" />
<rect x="235.9" y="476.5" width="13.5" height="23.5" fill="#a487bd" stroke="none" stroke-width="1" />
<line x1="235.9" y1="489.3" x2="249.4" y2="489.3" stroke="#4e246c" stroke-width="0.8" />
<circle cx="242.7" cy="465.0" r="0.85" fill="#4e246c" />
<circle cx="242.7" cy="469.0" r="0.85" fill="#4e246c" />
<circle cx="242.7" cy="473.0" r="0.85" fill="#4e246c" />
<circle cx="243.7" cy="487.0" r="0.85" fill="#4e246c" />
<circle cx="241.7" cy="489.0" r="0.85" fill="#4e246c" />
<circle cx="242.7" cy="492.0" r="0.85" fill="#4e246c" />
<circle cx="243.7" cy="500.0" r="0.85" fill="#4e246c" />
<circle cx="241.7" cy="504.0" r="0.85" fill="#4e246c" />
<circle cx="242.7" cy="506.0" r="0.85" fill="#4e246c" />
<path d="M50.5,427.9 L50.5,426.7 L69,426.7 L69,427.9" stroke="#444" fill="none" stroke-width="0.9" />
<text x="59.8" y="427.3" font-size="8.21" fill="#333" text-anchor="middle" stroke="#333" stroke-width="0.18" >*</text>
<path d="M100.2,427.8 L100.2,426.6 L118.8,426.6 L118.8,427.8" stroke="#444" fill="none" stroke-width="0.9" />
<text x="109.5" y="427.0" font-size="8.21" fill="#333" text-anchor="middle" stroke="#333" stroke-width="0.18" >*</text>
<path d="M162.9,428.2 L162.9,427 L181.7,427 L181.7,428.2" stroke="#444" fill="none" stroke-width="0.9" />
<text x="172.3" y="425.8" font-size="8.21" fill="#333" text-anchor="middle" stroke="#333" stroke-width="0.18" ></text>
<text x="160.2" y="424.2" font-size="8.1" fill="#333" text-anchor="start" stroke="#333" stroke-width="0.18" textLength="23.5" lengthAdjust="spacingAndGlyphs" ><tspan font-style="italic">P</tspan> = .053</text>
<path d="M224.3,428.2 L224.3,427 L242.8,427 L242.8,428.2" stroke="#444" fill="none" stroke-width="0.9" />
<text x="233.6" y="425.8" font-size="8.21" fill="#333" text-anchor="middle" stroke="#333" stroke-width="0.18" ></text>
<text x="221.9" y="424.2" font-size="8.1" fill="#333" text-anchor="start" stroke="#333" stroke-width="0.18" textLength="23.1" lengthAdjust="spacingAndGlyphs" ><tspan font-style="italic">P</tspan> = .054</text>
<text x="14.2" y="464.0" font-size="8.64" fill="#333" text-anchor="middle" stroke="#333" stroke-width="0.18" textLength="47.0" lengthAdjust="spacingAndGlyphs" transform="rotate(-90 14.2 464.0)" >T-cells [cells/µL]</text>
<text x="143.2" y="464.2" font-size="8.64" fill="#333" text-anchor="middle" stroke="#333" stroke-width="0.18" textLength="84.7" lengthAdjust="spacingAndGlyphs" transform="rotate(-90 143.2 464.2)" >Endogenous T-cells [cells/µL]</text>
<text x="205.0" y="463.0" font-size="8.64" fill="#333" text-anchor="middle" stroke="#333" stroke-width="0.18" textLength="60.5" lengthAdjust="spacingAndGlyphs" transform="rotate(-90 205.0 463.0)" >CAR T-cells [cells/µL]</text>
<line x1="55.0" y1="514.9" x2="55.0" y2="524.3" stroke="#c8c8c8" stroke-width="0.9" />
<rect x="50.5" y="516.6" width="9.0" height="6.0" fill="#d4d4d4" stroke="none" stroke-width="1" />
<line x1="50.5" y1="519.6" x2="59.5" y2="519.6" stroke="#bdbdbd" stroke-width="0.8" />
<circle cx="55.0" cy="519.6" r="1.1" fill="#bdbdbd" />
<text x="62.0" y="521.9" font-size="7.56" fill="#333" text-anchor="start" stroke="#333" stroke-width="0.18" textLength="28.0" lengthAdjust="spacingAndGlyphs" >NT + PBS</text>
<line x1="100.7" y1="514.9" x2="100.7" y2="524.3" stroke="#456ea3" stroke-width="0.9" />
<rect x="96.2" y="516.6" width="9.0" height="6.0" fill="#7f98c4" stroke="none" stroke-width="1" />
<line x1="96.2" y1="519.6" x2="105.2" y2="519.6" stroke="#1d4b82" stroke-width="0.8" />
<circle cx="100.7" cy="519.6" r="1.1" fill="#1d4b82" />
<text x="107.6" y="521.9" font-size="7.56" fill="#333" text-anchor="start" stroke="#333" stroke-width="0.18" textLength="31.6" lengthAdjust="spacingAndGlyphs" >NT + BsAb</text>
<line x1="149.9" y1="514.9" x2="149.9" y2="524.3" stroke="#d9574f" stroke-width="0.9" />
<rect x="145.4" y="516.6" width="9.0" height="6.0" fill="#ec8a78" stroke="none" stroke-width="1" />
<line x1="145.4" y1="519.6" x2="154.4" y2="519.6" stroke="#c8283a" stroke-width="0.8" />
<circle cx="149.9" cy="519.6" r="1.1" fill="#c8283a" />
<text x="157.5" y="521.9" font-size="7.56" fill="#333" text-anchor="start" stroke="#333" stroke-width="0.18" textLength="31.6" lengthAdjust="spacingAndGlyphs" >CAR + PBS</text>
<line x1="199.7" y1="514.9" x2="199.7" y2="524.3" stroke="#7d56a0" stroke-width="0.9" />
<rect x="195.2" y="516.6" width="9.0" height="6.0" fill="#a487bd" stroke="none" stroke-width="1" />
<line x1="195.2" y1="519.6" x2="204.2" y2="519.6" stroke="#4e246c" stroke-width="0.8" />
<circle cx="199.7" cy="519.6" r="1.1" fill="#4e246c" />
<text x="207.1" y="521.9" font-size="7.56" fill="#333" text-anchor="start" stroke="#333" stroke-width="0.18" textLength="35.7" lengthAdjust="spacingAndGlyphs" >CAR + BsAb</text>
<text x="272.8" y="400.2" font-size="10.8" fill="#111" text-anchor="start" font-weight="bold" stroke="#111" stroke-width="0.35" textLength="5.8" lengthAdjust="spacingAndGlyphs" >F</text>
<polyline points="304.5,494.2 315.3,488.9 326.1,487.7 336.9,485.5" stroke="#3a5068" fill="none" stroke-width="1.1" stroke-linejoin="round" />
<polyline points="304.5,494.2 315.3,491.7 326.1,492.8 336.9,493.4 347.7,493.4 358.5,493.9" stroke="#3a5068" fill="none" stroke-width="1.1" stroke-linejoin="round" />
<polyline points="304.5,494.2 315.3,492.8 326.1,493.4 336.9,493.7" stroke="#3a5068" fill="none" stroke-width="1.1" stroke-linejoin="round" />
<polyline points="304.5,494.2 315.3,493.4 326.1,493.9 336.9,493.9 347.7,494.2 358.5,493.9" stroke="#3a5068" fill="none" stroke-width="1.1" stroke-linejoin="round" />
<polyline points="304.5,494.2 315.3,491.1 326.1,493.7 336.9,494.2" stroke="#3a5068" fill="none" stroke-width="1.1" stroke-linejoin="round" />
<polyline points="304.5,494.2 315.3,482.7 326.1,490.0 336.9,493.9 347.7,493.9 358.5,494.2 369.3,494.2 380.1,494.2" stroke="#c8384e" fill="none" stroke-width="1.1" stroke-linejoin="round" />
<polyline points="304.5,494.2 315.3,486.6 326.1,493.4 336.9,493.9 347.7,494.2 358.5,494.2 380.1,494.3" stroke="#c8384e" fill="none" stroke-width="1.1" stroke-linejoin="round" />
<line x1="298.2" y1="497.3" x2="298.2" y2="420.9" stroke="#111" stroke-width="1.1" />
<path d="M296.2,421.4 L298.2,416.8 L300.2,421.4 Z" stroke="none" fill="#111" stroke-width="1" />
<line x1="297.2" y1="421.0" x2="297.2" y2="497.0" stroke="#c8505e" stroke-width="1.8" stroke-dasharray="1.8,1.5" />
<line x1="298.2" y1="497.3" x2="381.1" y2="497.3" stroke="#111" stroke-width="1.1" />
<path d="M380.6,495.3 L385.2,497.3 L380.6,499.3 Z" stroke="none" fill="#111" stroke-width="1" />
<line x1="309.1" y1="423.4" x2="309.1" y2="497.0" stroke="#3a5a78" stroke-width="1.1" stroke-dasharray="2,2" />
<line x1="295.6" y1="494.5" x2="298.2" y2="494.5" stroke="#222" stroke-width="0.9" />
<text x="293.9" y="497.0" font-size="7.56" fill="#333" text-anchor="end" stroke="#333" stroke-width="0.18" textLength="3.4" lengthAdjust="spacingAndGlyphs" >0</text>
<line x1="295.6" y1="480.4" x2="298.2" y2="480.4" stroke="#222" stroke-width="0.9" />
<text x="293.9" y="482.9" font-size="7.56" fill="#333" text-anchor="end" stroke="#333" stroke-width="0.18" textLength="6.8" lengthAdjust="spacingAndGlyphs" >25</text>
<line x1="295.6" y1="466.3" x2="298.2" y2="466.3" stroke="#222" stroke-width="0.9" />
<text x="293.9" y="468.8" font-size="7.56" fill="#333" text-anchor="end" stroke="#333" stroke-width="0.18" textLength="6.8" lengthAdjust="spacingAndGlyphs" >50</text>
<line x1="295.6" y1="452.2" x2="298.2" y2="452.2" stroke="#222" stroke-width="0.9" />
<text x="293.9" y="454.7" font-size="7.56" fill="#333" text-anchor="end" stroke="#333" stroke-width="0.18" textLength="6.8" lengthAdjust="spacingAndGlyphs" >75</text>
<line x1="295.6" y1="438.1" x2="298.2" y2="438.1" stroke="#222" stroke-width="0.9" />
<text x="293.9" y="440.6" font-size="7.56" fill="#333" text-anchor="end" stroke="#333" stroke-width="0.18" textLength="10.2" lengthAdjust="spacingAndGlyphs" >100</text>
<line x1="295.6" y1="424.0" x2="298.2" y2="424.0" stroke="#222" stroke-width="0.9" />
<text x="293.9" y="426.5" font-size="7.56" fill="#333" text-anchor="end" stroke="#333" stroke-width="0.18" textLength="10.2" lengthAdjust="spacingAndGlyphs" >125</text>
<line x1="304.5" y1="497.3" x2="304.5" y2="499.8" stroke="#222" stroke-width="0.8" />
<text x="304.5" y="510.0" font-size="7.88" fill="#333" text-anchor="middle" stroke="#333" stroke-width="0.18" textLength="3.4" lengthAdjust="spacingAndGlyphs" >5</text>
<line x1="315.3" y1="497.3" x2="315.3" y2="499.8" stroke="#222" stroke-width="0.8" />
<text x="315.3" y="510.0" font-size="7.88" fill="#333" text-anchor="middle" stroke="#333" stroke-width="0.18" textLength="7.0" lengthAdjust="spacingAndGlyphs" >12</text>
<line x1="326.1" y1="497.3" x2="326.1" y2="499.8" stroke="#222" stroke-width="0.8" />
<text x="326.1" y="510.0" font-size="7.88" fill="#333" text-anchor="middle" stroke="#333" stroke-width="0.18" textLength="7.0" lengthAdjust="spacingAndGlyphs" >19</text>
<line x1="336.9" y1="497.3" x2="336.9" y2="499.8" stroke="#222" stroke-width="0.8" />
<text x="336.9" y="510.0" font-size="7.88" fill="#333" text-anchor="middle" stroke="#333" stroke-width="0.18" textLength="7.0" lengthAdjust="spacingAndGlyphs" >26</text>
<line x1="347.7" y1="497.3" x2="347.7" y2="499.8" stroke="#222" stroke-width="0.8" />
<text x="347.7" y="510.0" font-size="7.88" fill="#333" text-anchor="middle" stroke="#333" stroke-width="0.18" textLength="7.0" lengthAdjust="spacingAndGlyphs" >33</text>
<line x1="358.5" y1="497.3" x2="358.5" y2="499.8" stroke="#222" stroke-width="0.8" />
<text x="358.5" y="510.0" font-size="7.88" fill="#333" text-anchor="middle" stroke="#333" stroke-width="0.18" textLength="7.0" lengthAdjust="spacingAndGlyphs" >40</text>
<line x1="369.3" y1="497.3" x2="369.3" y2="499.8" stroke="#222" stroke-width="0.8" />
<text x="369.3" y="510.0" font-size="7.88" fill="#333" text-anchor="middle" stroke="#333" stroke-width="0.18" textLength="7.0" lengthAdjust="spacingAndGlyphs" >47</text>
<line x1="380.1" y1="497.3" x2="380.1" y2="499.8" stroke="#222" stroke-width="0.8" />
<text x="380.1" y="510.0" font-size="7.88" fill="#333" text-anchor="middle" stroke="#333" stroke-width="0.18" textLength="7.0" lengthAdjust="spacingAndGlyphs" >54</text>
<text x="342.0" y="411.0" font-size="10.58" fill="#c8405a" text-anchor="middle" stroke="#c8405a" stroke-width="0.18" textLength="42.5" lengthAdjust="spacingAndGlyphs" >CAR + PBS</text>
<text x="341.3" y="521.5" font-size="9.72" fill="#333" text-anchor="middle" stroke="#333" stroke-width="0.18" textLength="53.5" lengthAdjust="spacingAndGlyphs" >Time post therapy</text>
<text x="341.3" y="532.3" font-size="9.72" fill="#333" text-anchor="middle" stroke="#333" stroke-width="0.18" textLength="48.0" lengthAdjust="spacingAndGlyphs" >initiation [days]</text>
<text x="363.8" y="479.6" font-size="8.1" fill="#c8384e" text-anchor="start" stroke="#c8384e" stroke-width="0.18" textLength="21.5" lengthAdjust="spacingAndGlyphs" >survivor</text>
<text x="364.6" y="487.8" font-size="8.1" fill="#3a5068" text-anchor="start" stroke="#3a5068" stroke-width="0.18" textLength="20.5" lengthAdjust="spacingAndGlyphs" >relapse</text>
<text x="276.0" y="463.0" font-size="8.64" fill="#333" text-anchor="middle" stroke="#333" stroke-width="0.18" textLength="64.0" lengthAdjust="spacingAndGlyphs" transform="rotate(-90 276.0 463.0)" >CD8 CAR [cells/µL]</text>
<polyline points="418.0,493.4 428.5,433.0 439.0,486.0 449.5,491.7 460.0,491.7 470.5,490.6 481.0,493.4 491.5,493.4" stroke="#3e2650" fill="none" stroke-width="1.1" stroke-linejoin="round" />
<polyline points="418.0,493.9 428.5,490.0 439.0,492.8 449.5,492.2 460.0,492.2 470.5,492.8 481.0,493.4 491.5,493.4" stroke="#3e2650" fill="none" stroke-width="1.1" stroke-linejoin="round" />
<polyline points="418.0,492.8 428.5,453.3 439.0,492.8 449.5,493.4 460.0,493.4 470.5,493.4 481.0,493.9 491.5,493.9" stroke="#5a3a80" fill="none" stroke-width="1.1" stroke-linejoin="round" />
<polyline points="418.0,493.4 428.5,477.6 439.0,493.4 449.5,493.4 460.0,493.9 470.5,493.9 481.0,493.9 491.5,493.4" stroke="#5a3a80" fill="none" stroke-width="1.1" stroke-linejoin="round" />
<polyline points="418.0,493.9 428.5,483.2 439.0,493.9 449.5,493.9 460.0,493.9 470.5,493.9 481.0,493.4 491.5,493.4" stroke="#5a3a80" fill="none" stroke-width="1.1" stroke-linejoin="round" />
<polyline points="418.0,493.9 428.5,488.9 439.0,493.4 449.5,493.9 460.0,493.9 470.5,493.9 481.0,493.9 491.5,493.9" stroke="#5a3a80" fill="none" stroke-width="1.1" stroke-linejoin="round" />
<polyline points="418.0,493.9 428.5,491.1 439.0,493.9 449.5,493.9 460.0,493.9 470.5,494.2 481.0,494.2 491.5,494.2" stroke="#5a3a80" fill="none" stroke-width="1.1" stroke-linejoin="round" />
<polyline points="418.0,493.9 428.5,492.8 439.0,493.9 449.5,493.9 460.0,493.9 470.5,493.9 481.0,493.9 491.5,493.9" stroke="#5a3a80" fill="none" stroke-width="1.1" stroke-linejoin="round" />
<polyline points="418.0,490.0 428.5,493.4 439.0,493.9 449.5,493.9 460.0,493.9 470.5,493.9 481.0,492.8 491.5,492.8" stroke="#5a3a80" fill="none" stroke-width="1.1" stroke-linejoin="round" />
<line x1="412.0" y1="497.3" x2="412.0" y2="420.9" stroke="#111" stroke-width="1.1" />
<path d="M410.0,421.4 L412.0,416.8 L414.0,421.4 Z" stroke="none" fill="#111" stroke-width="1" />
<line x1="411.0" y1="421.0" x2="411.0" y2="497.0" stroke="#c8505e" stroke-width="1.8" stroke-dasharray="1.8,1.5" />
<line x1="412.0" y1="497.3" x2="496.1" y2="497.3" stroke="#111" stroke-width="1.1" />
<path d="M495.6,495.3 L500.2,497.3 L495.6,499.3 Z" stroke="none" fill="#111" stroke-width="1" />
<line x1="422.5" y1="423.4" x2="422.5" y2="497.0" stroke="#3a5a78" stroke-width="1.1" stroke-dasharray="2,2" />
<line x1="409.4" y1="494.5" x2="412.0" y2="494.5" stroke="#222" stroke-width="0.9" />
<text x="407.7" y="497.0" font-size="7.56" fill="#333" text-anchor="end" stroke="#333" stroke-width="0.18" textLength="3.4" lengthAdjust="spacingAndGlyphs" >0</text>
<line x1="409.4" y1="480.4" x2="412.0" y2="480.4" stroke="#222" stroke-width="0.9" />
<text x="407.7" y="482.9" font-size="7.56" fill="#333" text-anchor="end" stroke="#333" stroke-width="0.18" textLength="6.8" lengthAdjust="spacingAndGlyphs" >25</text>
<line x1="409.4" y1="466.3" x2="412.0" y2="466.3" stroke="#222" stroke-width="0.9" />
<text x="407.7" y="468.8" font-size="7.56" fill="#333" text-anchor="end" stroke="#333" stroke-width="0.18" textLength="6.8" lengthAdjust="spacingAndGlyphs" >50</text>
<line x1="409.4" y1="452.2" x2="412.0" y2="452.2" stroke="#222" stroke-width="0.9" />
<text x="407.7" y="454.7" font-size="7.56" fill="#333" text-anchor="end" stroke="#333" stroke-width="0.18" textLength="6.8" lengthAdjust="spacingAndGlyphs" >75</text>
<line x1="409.4" y1="438.1" x2="412.0" y2="438.1" stroke="#222" stroke-width="0.9" />
<text x="407.7" y="440.6" font-size="7.56" fill="#333" text-anchor="end" stroke="#333" stroke-width="0.18" textLength="10.2" lengthAdjust="spacingAndGlyphs" >100</text>
<line x1="409.4" y1="424.0" x2="412.0" y2="424.0" stroke="#222" stroke-width="0.9" />
<text x="407.7" y="426.5" font-size="7.56" fill="#333" text-anchor="end" stroke="#333" stroke-width="0.18" textLength="10.2" lengthAdjust="spacingAndGlyphs" >125</text>
<line x1="418.0" y1="497.3" x2="418.0" y2="499.8" stroke="#222" stroke-width="0.8" />
<text x="418.0" y="510.0" font-size="7.88" fill="#333" text-anchor="middle" stroke="#333" stroke-width="0.18" textLength="3.4" lengthAdjust="spacingAndGlyphs" >5</text>
<line x1="428.5" y1="497.3" x2="428.5" y2="499.8" stroke="#222" stroke-width="0.8" />
<text x="428.5" y="510.0" font-size="7.88" fill="#333" text-anchor="middle" stroke="#333" stroke-width="0.18" textLength="7.0" lengthAdjust="spacingAndGlyphs" >12</text>
<line x1="439.0" y1="497.3" x2="439.0" y2="499.8" stroke="#222" stroke-width="0.8" />
<text x="439.0" y="510.0" font-size="7.88" fill="#333" text-anchor="middle" stroke="#333" stroke-width="0.18" textLength="7.0" lengthAdjust="spacingAndGlyphs" >19</text>
<line x1="449.5" y1="497.3" x2="449.5" y2="499.8" stroke="#222" stroke-width="0.8" />
<text x="449.5" y="510.0" font-size="7.88" fill="#333" text-anchor="middle" stroke="#333" stroke-width="0.18" textLength="7.0" lengthAdjust="spacingAndGlyphs" >26</text>
<line x1="460.0" y1="497.3" x2="460.0" y2="499.8" stroke="#222" stroke-width="0.8" />
<text x="460.0" y="510.0" font-size="7.88" fill="#333" text-anchor="middle" stroke="#333" stroke-width="0.18" textLength="7.0" lengthAdjust="spacingAndGlyphs" >33</text>
<line x1="470.5" y1="497.3" x2="470.5" y2="499.8" stroke="#222" stroke-width="0.8" />
<text x="470.5" y="510.0" font-size="7.88" fill="#333" text-anchor="middle" stroke="#333" stroke-width="0.18" textLength="7.0" lengthAdjust="spacingAndGlyphs" >40</text>
<line x1="481.0" y1="497.3" x2="481.0" y2="499.8" stroke="#222" stroke-width="0.8" />
<text x="481.0" y="510.0" font-size="7.88" fill="#333" text-anchor="middle" stroke="#333" stroke-width="0.18" textLength="7.0" lengthAdjust="spacingAndGlyphs" >47</text>
<line x1="491.5" y1="497.3" x2="491.5" y2="499.8" stroke="#222" stroke-width="0.8" />
<text x="491.5" y="510.0" font-size="7.88" fill="#333" text-anchor="middle" stroke="#333" stroke-width="0.18" textLength="7.0" lengthAdjust="spacingAndGlyphs" >54</text>
<text x="455.0" y="411.0" font-size="10.58" fill="#6c4c8c" text-anchor="middle" stroke="#6c4c8c" stroke-width="0.18" textLength="47.5" lengthAdjust="spacingAndGlyphs" >CAR + BsAb</text>
<text x="454.3" y="521.5" font-size="9.72" fill="#333" text-anchor="middle" stroke="#333" stroke-width="0.18" textLength="53.5" lengthAdjust="spacingAndGlyphs" >Time post therapy</text>
<text x="454.3" y="532.3" font-size="9.72" fill="#333" text-anchor="middle" stroke="#333" stroke-width="0.18" textLength="48.0" lengthAdjust="spacingAndGlyphs" >initiation [days]</text>
<text x="477.5" y="479.6" font-size="8.1" fill="#8a6aa6" text-anchor="start" stroke="#8a6aa6" stroke-width="0.18" textLength="21.5" lengthAdjust="spacingAndGlyphs" >survivor</text>
<text x="478.3" y="487.8" font-size="8.1" fill="#3e2650" text-anchor="start" stroke="#3e2650" stroke-width="0.18" textLength="20.5" lengthAdjust="spacingAndGlyphs" >relapse</text>
<text x="7.4" y="558.3" font-size="10.8" fill="#111" text-anchor="start" font-weight="bold" stroke="#111" stroke-width="0.35" textLength="7.8" lengthAdjust="spacingAndGlyphs" >G</text>
<text x="36.0" y="568.8" font-size="10.04" fill="#333" text-anchor="start" stroke="#333" stroke-width="0.18" textLength="84.5" lengthAdjust="spacingAndGlyphs" >Splenic T cells, Day 10</text>
<text x="13.8" y="591.2" font-size="8.64" fill="#333" text-anchor="middle" stroke="#333" stroke-width="0.18" textLength="36.0" lengthAdjust="spacingAndGlyphs" transform="rotate(-90 13.8 591.2)" >Endogenous</text>
<text x="23.8" y="592.5" font-size="8.64" fill="#333" text-anchor="middle" stroke="#333" stroke-width="0.18" textLength="10.5" lengthAdjust="spacingAndGlyphs" transform="rotate(-90 23.8 592.5)" >CD8</text>
<text x="23.6" y="624.5" font-size="8.64" fill="#333" text-anchor="middle" stroke="#333" stroke-width="0.18" textLength="23.5" lengthAdjust="spacingAndGlyphs" transform="rotate(-90 23.6 624.5)" >CD8 CAR</text>
<polyline points="29.5,608.5 30.3,608.5 31.1,608.5 31.8,608.5 32.6,608.5 33.4,608.5 34.1,608.5 34.9,608.5 35.7,608.4 36.5,608.3 37.2,607.8 38.0,606.6 38.8,604.0 39.6,599.4 40.4,592.7 41.1,584.9 41.9,578.2 42.7,575.1 43.5,576.7 44.2,582.5 45.0,590.2 45.8,597.4 46.5,602.7 47.3,605.9 48.1,607.5 48.9,608.2 49.6,608.4 50.4,608.5 51.2,608.5 52.0,608.5 52.8,608.5 53.5,608.5 54.3,608.5 55.1,608.5 55.9,608.5 56.6,608.5 57.4,608.5 58.2,608.5 59.0,608.5 59.7,608.5 60.5,608.5 61.3,608.5 62.0,608.5 62.8,608.5 63.6,608.5 64.4,608.5 65.2,608.5 65.9,608.5 66.7,608.5 67.5,608.5 68.2,608.5 69.0,608.5 69.8,608.5 70.6,608.5 71.3,608.5 72.1,608.5 72.9,608.5 73.7,608.5 74.5,608.5 75.2,608.5 76.0,608.5" fill="none" stroke="#777" stroke-width="1.0" stroke-dasharray="1.1,1.1" stroke-linejoin="round"/>
<polyline points="29.5,608.5 30.0,608.5 30.5,608.5 31.0,608.5 31.5,608.5 32.0,608.5 32.5,608.5 33.0,608.5 33.5,608.4 34.0,608.4 34.5,608.2 35.0,608.0 35.5,607.6 36.0,607.0 36.5,606.1 37.0,604.7 37.5,602.7 38.0,600.1 38.5,596.9 39.0,593.2 39.5,589.0 40.0,584.8 40.5,580.9 41.0,577.8 41.5,575.7 42.0,575.0 42.5,575.5 43.0,576.3 43.5,576.0 44.0,575.0 44.5,575.0 45.0,575.8 45.5,577.0 46.0,577.2 46.5,576.4 47.0,575.7 47.5,576.2 48.0,577.4 48.5,578.2 49.0,577.7 49.5,576.8 50.0,577.4 50.5,577.4 51.0,578.5 51.5,579.3 52.0,579.0 52.5,578.7 53.0,579.5 53.5,580.7 54.0,580.7 54.5,580.1 55.0,580.6 55.5,581.8 56.0,581.7 56.5,582.7 57.0,583.7 57.5,584.7 58.0,585.7 58.5,586.7 59.0,587.7 59.5,588.7 60.0,589.7 60.5,590.7 61.0,591.8 61.5,594.4 62.0,596.4 62.5,598.1 63.0,599.8 63.5,601.4 64.0,602.9 64.5,604.3 65.0,605.8 65.5,607.1 66.0,608.5 66.5,608.5 67.0,608.5 67.5,608.5 68.0,608.5 68.5,608.5 69.0,608.5 69.5,608.5 70.0,608.5 70.5,608.5 71.0,608.5 71.5,608.5 72.0,608.5 72.5,608.5 73.0,608.5 73.5,608.5 74.0,608.5 74.5,608.5 75.0,608.5 75.5,608.5 76.0,608.5 76.5,608.5" fill="none" stroke="#4e2e70" stroke-width="1.2" stroke-linejoin="round"/>
<polyline points="29.5,608.5 30.3,608.5 31.1,608.5 31.8,608.5 32.6,608.5 33.4,608.5 34.1,608.4 34.9,608.3 35.7,607.9 36.5,607.0 37.2,605.2 38.0,602.1 38.8,597.3 39.6,591.0 40.4,584.3 41.1,578.5 41.9,575.3 42.7,575.7 43.5,579.6 44.2,585.8 45.0,592.5 45.8,598.5 46.5,602.9 47.3,605.7 48.1,607.3 48.9,608.0 49.6,608.3 50.4,608.4 51.2,608.5 52.0,608.5 52.8,608.5 53.5,608.4 54.3,608.4 55.1,608.3 55.9,608.1 56.6,607.8 57.4,607.5 58.2,607.2 59.0,607.0 59.7,606.8 60.5,606.9 61.3,607.0 62.0,607.3 62.8,607.6 63.6,607.9 64.4,608.1 65.2,608.3 65.9,608.4 66.7,608.5 67.5,608.5 68.2,608.5 69.0,608.5 69.8,608.5 70.6,608.5 71.3,608.5 72.1,608.5 72.9,608.5 73.7,608.5 74.5,608.5 75.2,608.5 76.0,608.5" fill="none" stroke="#c02a50" stroke-width="1.2" stroke-linejoin="round"/>
<rect x="28.9" y="573.9" width="47.8" height="35.1" fill="none" stroke="#555" stroke-width="0.9" />
<polyline points="79.8,608.5 80.6,608.5 81.3,608.5 82.1,608.5 82.9,608.5 83.7,608.4 84.5,608.3 85.2,607.9 86.0,607.0 86.8,605.2 87.5,601.8 88.3,596.7 89.1,590.0 89.9,583.0 90.6,577.4 91.4,575.0 92.2,576.7 93.0,581.7 93.8,588.6 94.5,595.5 95.3,601.0 96.1,604.6 96.8,606.8 97.6,607.8 98.4,608.3 99.2,608.4 99.9,608.5 100.7,608.5 101.5,608.5 102.3,608.5 103.0,608.5 103.8,608.5 104.6,608.5 105.4,608.5 106.2,608.5 106.9,608.5 107.7,608.5 108.5,608.5 109.2,608.5 110.0,608.5 110.8,608.5 111.6,608.5 112.3,608.5 113.1,608.5 113.9,608.5 114.7,608.5 115.4,608.5 116.2,608.5 117.0,608.5 117.8,608.5 118.5,608.5 119.3,608.5 120.1,608.5 120.9,608.5 121.7,608.5 122.4,608.5 123.2,608.5 124.0,608.5 124.8,608.5 125.5,608.5 126.3,608.5" fill="none" stroke="#777" stroke-width="1.0" stroke-dasharray="1.1,1.1" stroke-linejoin="round"/>
<polyline points="79.8,608.5 80.6,608.5 81.3,608.5 82.1,608.5 82.9,608.5 83.7,608.5 84.5,608.5 85.2,608.5 86.0,608.5 86.8,608.5 87.5,608.5 88.3,608.5 89.1,608.5 89.9,608.5 90.6,608.4 91.4,608.4 92.2,608.2 93.0,608.0 93.8,607.5 94.5,606.9 95.3,606.0 96.1,604.9 96.8,603.7 97.6,602.4 98.4,601.2 99.2,600.4 99.9,600.1 100.7,600.4 101.5,601.1 102.3,602.2 103.0,603.5 103.8,604.8 104.6,605.8 105.4,606.6 106.2,606.9 106.9,606.6 107.7,605.3 108.5,602.7 109.2,598.5 110.0,592.9 110.8,586.5 111.6,580.4 112.3,576.2 113.1,575.0 113.9,577.3 114.7,582.2 115.4,588.6 116.2,594.9 117.0,600.1 117.8,603.9 118.5,606.2 119.3,607.5 120.1,608.1 120.9,608.3 121.7,608.4 122.4,608.5 123.2,608.5 124.0,608.5 124.8,608.5 125.5,608.5 126.3,608.5" fill="none" stroke="#4e2e70" stroke-width="1.2" stroke-linejoin="round"/>
<polyline points="79.8,608.5 80.6,608.5 81.3,608.5 82.1,608.5 82.9,608.5 83.7,608.5 84.5,608.5 85.2,608.5 86.0,608.5 86.8,608.5 87.5,608.5 88.3,608.5 89.1,608.5 89.9,608.5 90.6,608.5 91.4,608.5 92.2,608.4 93.0,608.4 93.8,608.2 94.5,608.0 95.3,607.6 96.1,606.9 96.8,605.9 97.6,604.4 98.4,602.5 99.2,600.3 99.9,597.9 100.7,595.5 101.5,593.4 102.3,591.9 103.0,590.9 103.8,590.0 104.6,588.5 105.4,585.6 106.2,581.3 106.9,576.4 107.7,575.0 108.5,575.0 109.2,576.9 110.0,584.1 110.8,592.2 111.6,599.0 112.3,603.7 113.1,606.4 113.9,607.7 114.7,608.2 115.4,608.4 116.2,608.5 117.0,608.5 117.8,608.5 118.5,608.5 119.3,608.5 120.1,608.5 120.9,608.5 121.7,608.5 122.4,608.5 123.2,608.5 124.0,608.5 124.8,608.5 125.5,608.5 126.3,608.5" fill="none" stroke="#c02a50" stroke-width="1.2" stroke-linejoin="round"/>
<rect x="79.2" y="573.9" width="47.6" height="35.1" fill="none" stroke="#555" stroke-width="0.9" />
<polyline points="29.5,647.8 30.3,647.8 31.1,647.8 31.8,647.8 32.6,647.8 33.4,647.8 34.1,647.7 34.9,647.6 35.7,647.2 36.5,646.3 37.2,644.5 38.0,641.3 38.8,636.6 39.6,630.8 40.4,625.0 41.1,620.8 41.9,619.5 42.7,621.6 43.5,626.4 44.2,632.4 45.0,638.0 45.8,642.3 46.5,645.0 47.3,646.6 48.1,647.3 48.9,647.6 49.6,647.8 50.4,647.8 51.2,647.8 52.0,647.8 52.8,647.8 53.5,647.8 54.3,647.8 55.1,647.8 55.9,647.8 56.6,647.8 57.4,647.8 58.2,647.8 59.0,647.8 59.7,647.8 60.5,647.8 61.3,647.8 62.0,647.8 62.8,647.8 63.6,647.8 64.4,647.8 65.2,647.8 65.9,647.8 66.7,647.8 67.5,647.8 68.2,647.8 69.0,647.8 69.8,647.8 70.6,647.8 71.3,647.8 72.1,647.8 72.9,647.8 73.7,647.8 74.5,647.8 75.2,647.8 76.0,647.8" fill="none" stroke="#777" stroke-width="1.0" stroke-dasharray="1.1,1.1" stroke-linejoin="round"/>
<polyline points="29.5,647.8 30.3,647.8 31.1,647.8 31.8,647.8 32.6,647.8 33.4,647.8 34.1,647.8 34.9,647.8 35.7,647.8 36.5,647.8 37.2,647.8 38.0,647.8 38.8,647.8 39.6,647.8 40.4,647.8 41.1,647.8 41.9,647.8 42.7,647.8 43.5,647.8 44.2,647.8 45.0,647.8 45.8,647.8 46.5,647.8 47.3,647.8 48.1,647.8 48.9,647.8 49.6,647.8 50.4,647.8 51.2,647.8 52.0,647.8 52.8,647.8 53.5,647.8 54.3,647.7 55.1,647.4 55.9,646.9 56.6,645.8 57.4,643.7 58.2,640.2 59.0,635.2 59.7,629.1 60.5,622.7 61.3,617.4 62.0,614.7 62.8,615.3 63.6,619.0 64.4,624.9 65.2,631.3 65.9,637.2 66.7,641.6 67.5,644.5 68.2,646.3 69.0,647.1 69.8,647.5 70.6,647.7 71.3,647.8 72.1,647.8 72.9,647.8 73.7,647.8 74.5,647.8 75.2,647.8 76.0,647.8" fill="none" stroke="#4e2e70" stroke-width="1.2" stroke-linejoin="round"/>
<polyline points="29.5,647.8 30.3,647.8 31.1,647.8 31.8,647.8 32.6,647.8 33.4,647.8 34.1,647.8 34.9,647.8 35.7,647.8 36.5,647.8 37.2,647.8 38.0,647.8 38.8,647.8 39.6,647.8 40.4,647.8 41.1,647.8 41.9,647.8 42.7,647.8 43.5,647.8 44.2,647.8 45.0,647.8 45.8,647.8 46.5,647.8 47.3,647.8 48.1,647.8 48.9,647.8 49.6,647.8 50.4,647.8 51.2,647.8 52.0,647.8 52.8,647.8 53.5,647.8 54.3,647.7 55.1,647.4 55.9,646.9 56.6,645.7 57.4,643.4 58.2,639.6 59.0,634.3 59.7,627.8 60.5,621.4 61.3,616.7 62.0,615.2 62.8,617.2 63.6,622.2 64.4,628.7 65.2,635.0 65.9,640.2 66.7,643.8 67.5,645.9 68.2,647.0 69.0,647.5 69.8,647.7 70.6,647.8 71.3,647.8 72.1,647.8 72.9,647.8 73.7,647.8 74.5,647.8 75.2,647.8 76.0,647.8" fill="none" stroke="#c02a50" stroke-width="1.2" stroke-linejoin="round"/>
<rect x="28.9" y="612.4" width="47.8" height="35.9" fill="none" stroke="#555" stroke-width="0.9" />
<polyline points="79.8,647.8 80.6,647.7 81.3,647.7 82.1,647.5 82.9,647.3 83.7,646.8 84.5,646.2 85.2,645.1 86.0,643.7 86.8,641.7 87.5,639.1 88.3,636.0 89.1,632.6 89.9,629.1 90.6,625.7 91.4,623.0 92.2,621.2 93.0,620.5 93.8,621.1 94.5,622.8 95.3,625.5 96.1,628.8 96.8,632.4 97.6,635.8 98.4,638.9 99.2,641.5 99.9,643.6 100.7,645.1 101.5,646.1 102.3,646.8 103.0,647.2 103.8,647.5 104.6,647.6 105.4,647.7 106.2,647.8 106.9,647.8 107.7,647.8 108.5,647.8 109.2,647.8 110.0,647.8 110.8,647.8 111.6,647.8 112.3,647.8 113.1,647.8 113.9,647.8 114.7,647.8 115.4,647.8 116.2,647.8 117.0,647.8 117.8,647.8 118.5,647.8 119.3,647.8 120.1,647.8 120.9,647.8 121.7,647.8 122.4,647.8 123.2,647.8 124.0,647.8 124.8,647.8 125.5,647.8 126.3,647.8" fill="none" stroke="#777" stroke-width="1.0" stroke-dasharray="1.1,1.1" stroke-linejoin="round"/>
<polyline points="79.8,647.8 80.6,647.8 81.3,647.8 82.1,647.8 82.9,647.8 83.7,647.8 84.5,647.8 85.2,647.8 86.0,647.8 86.8,647.8 87.5,647.8 88.3,647.8 89.1,647.8 89.9,647.8 90.6,647.8 91.4,647.8 92.2,647.8 93.0,647.8 93.8,647.8 94.5,647.8 95.3,647.8 96.1,647.8 96.8,647.8 97.6,647.8 98.4,647.8 99.2,647.8 99.9,647.8 100.7,647.8 101.5,647.8 102.3,647.8 103.0,647.8 103.8,647.8 104.6,647.7 105.4,647.5 106.2,647.0 106.9,646.1 107.7,644.3 108.5,641.3 109.2,637.0 110.0,631.4 110.8,625.2 111.6,619.5 112.3,615.6 113.1,614.5 113.9,616.6 114.7,621.2 115.4,627.2 116.2,633.3 117.0,638.5 117.8,642.4 118.5,645.0 119.3,646.4 120.1,647.2 120.9,647.6 121.7,647.7 122.4,647.8 123.2,647.8 124.0,647.8 124.8,647.8 125.5,647.8 126.3,647.8" fill="none" stroke="#4e2e70" stroke-width="1.2" stroke-linejoin="round"/>
<polyline points="79.8,647.8 80.6,647.8 81.3,647.8 82.1,647.8 82.9,647.8 83.7,647.8 84.5,647.8 85.2,647.8 86.0,647.8 86.8,647.8 87.5,647.8 88.3,647.8 89.1,647.8 89.9,647.8 90.6,647.8 91.4,647.8 92.2,647.8 93.0,647.8 93.8,647.8 94.5,647.8 95.3,647.8 96.1,647.8 96.8,647.8 97.6,647.8 98.4,647.8 99.2,647.8 99.9,647.8 100.7,647.8 101.5,647.8 102.3,647.8 103.0,647.8 103.8,647.8 104.6,647.7 105.4,647.5 106.2,647.1 106.9,646.2 107.7,644.4 108.5,641.4 109.2,636.9 110.0,631.1 110.8,624.7 111.6,619.2 112.3,615.7 113.1,615.5 113.9,618.4 114.7,623.7 115.4,630.1 116.2,636.0 117.0,640.7 117.8,644.0 118.5,645.9 119.3,647.0 120.1,647.5 120.9,647.7 121.7,647.8 122.4,647.8 123.2,647.8 124.0,647.8 124.8,647.8 125.5,647.8 126.3,647.8" fill="none" stroke="#c02a50" stroke-width="1.2" stroke-linejoin="round"/>
<rect x="79.2" y="612.4" width="47.6" height="35.9" fill="none" stroke="#555" stroke-width="0.9" />
<line x1="29.5" y1="652.6" x2="73.2" y2="652.6" stroke="#111" stroke-width="1.0" />
<path d="M72.7,650.8 L76.7,652.6 L72.7,654.4 Z" stroke="none" fill="#111" stroke-width="1" />
<line x1="80.3" y1="652.6" x2="122.2" y2="652.6" stroke="#111" stroke-width="1.0" />
<path d="M121.7,650.8 L125.7,652.6 L121.7,654.4 Z" stroke="none" fill="#111" stroke-width="1" />
<text x="51.7" y="662.5" font-size="9.29" fill="#333" text-anchor="middle" stroke="#333" stroke-width="0.18" textLength="15.0" lengthAdjust="spacingAndGlyphs" >PD-1</text>
<text x="102.5" y="662.5" font-size="9.29" fill="#333" text-anchor="middle" stroke="#333" stroke-width="0.18" textLength="14.0" lengthAdjust="spacingAndGlyphs" >Ki67</text>
<line x1="37.0" y1="669.5" x2="46.4" y2="669.5" stroke="#888" stroke-width="0.8" stroke-dasharray="1,1" />
<text x="48.5" y="671.7" font-size="7.67" fill="#333" text-anchor="start" stroke="#333" stroke-width="0.18" textLength="13.8" lengthAdjust="spacingAndGlyphs" >FMO</text>
<text x="47.5" y="680.2" font-size="7.67" fill="#333" text-anchor="start" stroke="#333" stroke-width="0.18" textLength="20.1" lengthAdjust="spacingAndGlyphs" >control</text>
<line x1="77.6" y1="666.0" x2="77.6" y2="673.0" stroke="#d9574f" stroke-width="0.8" />
<rect x="73.9" y="667.3" width="7.4" height="4.4" fill="#ec8a78" stroke="none" stroke-width="1" />
<line x1="73.9" y1="669.5" x2="81.3" y2="669.5" stroke="#c8283a" stroke-width="0.8" />
<circle cx="77.6" cy="669.5" r="0.9" fill="#c8283a" />
<text x="84.5" y="671.8" font-size="7.67" fill="#333" text-anchor="start" stroke="#333" stroke-width="0.18" textLength="31.7" lengthAdjust="spacingAndGlyphs" >CAR + PBS</text>
<line x1="77.6" y1="677.2" x2="77.6" y2="684.2" stroke="#7d56a0" stroke-width="0.8" />
<rect x="73.9" y="678.5" width="7.4" height="4.4" fill="#a487bd" stroke="none" stroke-width="1" />
<line x1="73.9" y1="680.7" x2="81.3" y2="680.7" stroke="#4e246c" stroke-width="0.8" />
<circle cx="77.6" cy="680.7" r="0.9" fill="#4e246c" />
<text x="84.5" y="683.0" font-size="7.67" fill="#333" text-anchor="start" stroke="#333" stroke-width="0.18" textLength="34.9" lengthAdjust="spacingAndGlyphs" >CAR + BsAb</text>
<line x1="161.4" y1="647.5" x2="161.4" y2="574.2" stroke="#111" stroke-width="1.1" />
<path d="M159.4,574.7 L161.4,570.1 L163.4,574.7 Z" stroke="none" fill="#111" stroke-width="1" />
<line x1="161.4" y1="647.5" x2="185.1" y2="647.5" stroke="#111" stroke-width="1.1" />
<path d="M184.6,645.5 L189.2,647.5 L184.6,649.5 Z" stroke="none" fill="#111" stroke-width="1" />
<line x1="192.3" y1="647.5" x2="216.7" y2="647.5" stroke="#111" stroke-width="1.1" />
<path d="M216.2,645.5 L220.8,647.5 L216.2,649.5 Z" stroke="none" fill="#111" stroke-width="1" />
<line x1="158.8" y1="576.8" x2="161.4" y2="576.8" stroke="#222" stroke-width="0.9" />
<text x="156.4" y="579.3" font-size="7.56" fill="#333" text-anchor="end" stroke="#333" stroke-width="0.18" textLength="6.8" lengthAdjust="spacingAndGlyphs" >60</text>
<line x1="158.8" y1="599.0" x2="161.4" y2="599.0" stroke="#222" stroke-width="0.9" />
<text x="156.4" y="601.5" font-size="7.56" fill="#333" text-anchor="end" stroke="#333" stroke-width="0.18" textLength="6.8" lengthAdjust="spacingAndGlyphs" >40</text>
<line x1="158.8" y1="621.6" x2="161.4" y2="621.6" stroke="#222" stroke-width="0.9" />
<text x="156.4" y="624.1" font-size="7.56" fill="#333" text-anchor="end" stroke="#333" stroke-width="0.18" textLength="6.8" lengthAdjust="spacingAndGlyphs" >20</text>
<line x1="158.8" y1="644.2" x2="161.4" y2="644.2" stroke="#222" stroke-width="0.9" />
<text x="156.4" y="646.7" font-size="7.56" fill="#333" text-anchor="end" stroke="#333" stroke-width="0.18" textLength="3.4" lengthAdjust="spacingAndGlyphs" >0</text>
<text x="143.2" y="610.5" font-size="8.64" fill="#333" text-anchor="middle" stroke="#333" stroke-width="0.18" textLength="66.0" lengthAdjust="spacingAndGlyphs" transform="rotate(-90 143.2 610.5)" >CD69 expression [%]</text>
<line x1="169.1" y1="636.5" x2="169.1" y2="641.8" stroke="#c8283a" stroke-width="0.9" />
<rect x="166.1" y="638.2" width="6.0" height="2.0" fill="#ec8a78" stroke="none" stroke-width="1" />
<line x1="166.1" y1="639.2" x2="172.1" y2="639.2" stroke="#c8283a" stroke-width="0.9" />
<circle cx="169.1" cy="640.3" r="1.0" fill="#c8283a" />
<circle cx="167.2" cy="639.8" r="1.0" fill="#c8283a" />
<circle cx="169.0" cy="640.0" r="1.0" fill="#c8283a" />
<circle cx="171.6" cy="640.3" r="1.0" fill="#c8283a" />
<circle cx="169.8" cy="640.1" r="1.0" fill="#c8283a" />
<circle cx="171.1" cy="638.6" r="1.0" fill="#c8283a" />
<circle cx="168.2" cy="638.1" r="1.0" fill="#c8283a" />
<circle cx="167.6" cy="640.1" r="1.0" fill="#c8283a" />
<circle cx="170.6" cy="639.1" r="1.0" fill="#c8283a" />
<circle cx="167.1" cy="640.5" r="1.0" fill="#c8283a" />
<circle cx="169.2" cy="639.8" r="1.0" fill="#c8283a" />
<circle cx="167.4" cy="638.7" r="1.0" fill="#c8283a" />
<line x1="180.7" y1="626.5" x2="180.7" y2="636.5" stroke="#7d56a0" stroke-width="0.9" />
<rect x="176.7" y="628.6" width="8.0" height="6.1" fill="#a487bd" stroke="none" stroke-width="1" />
<line x1="176.7" y1="631.7" x2="184.7" y2="631.7" stroke="#4e246c" stroke-width="0.9" />
<circle cx="180.7" cy="612.8" r="1.0" fill="#4e246c" />
<circle cx="177.6" cy="630.8" r="1.0" fill="#4e246c" />
<circle cx="182.4" cy="632.1" r="1.0" fill="#4e246c" />
<circle cx="177.4" cy="632.4" r="1.0" fill="#4e246c" />
<circle cx="183.5" cy="632.5" r="1.0" fill="#4e246c" />
<circle cx="181.4" cy="633.5" r="1.0" fill="#4e246c" />
<circle cx="181.8" cy="630.1" r="1.0" fill="#4e246c" />
<circle cx="177.6" cy="631.7" r="1.0" fill="#4e246c" />
<circle cx="181.9" cy="629.9" r="1.0" fill="#4e246c" />
<circle cx="181.0" cy="631.3" r="1.0" fill="#4e246c" />
<circle cx="181.6" cy="629.2" r="1.0" fill="#4e246c" />
<circle cx="183.0" cy="632.5" r="1.0" fill="#4e246c" />
<circle cx="182.0" cy="633.0" r="1.0" fill="#4e246c" />
<line x1="200.8" y1="603.8" x2="200.8" y2="624.6" stroke="#c8283a" stroke-width="0.9" />
<rect x="196.8" y="612.3" width="8.0" height="6.9" fill="#ec8a78" stroke="none" stroke-width="1" />
<line x1="196.8" y1="615.8" x2="204.8" y2="615.8" stroke="#c8283a" stroke-width="0.9" />
<circle cx="200.8" cy="604.0" r="1.0" fill="#c8283a" />
<circle cx="200.8" cy="608.0" r="1.0" fill="#c8283a" />
<circle cx="200.8" cy="624.6" r="1.0" fill="#c8283a" />
<circle cx="202.5" cy="614.3" r="1.0" fill="#c8283a" />
<circle cx="200.3" cy="615.9" r="1.0" fill="#c8283a" />
<circle cx="200.8" cy="613.9" r="1.0" fill="#c8283a" />
<circle cx="203.1" cy="614.3" r="1.0" fill="#c8283a" />
<circle cx="203.6" cy="615.2" r="1.0" fill="#c8283a" />
<circle cx="199.4" cy="615.8" r="1.0" fill="#c8283a" />
<line x1="213.0" y1="597.0" x2="213.0" y2="607.7" stroke="#7d56a0" stroke-width="0.9" />
<rect x="209.0" y="600.8" width="8.0" height="5.4" fill="#a487bd" stroke="none" stroke-width="1" />
<line x1="209.0" y1="603.5" x2="217.0" y2="603.5" stroke="#4e246c" stroke-width="0.9" />
<circle cx="213.0" cy="627.0" r="1.0" fill="#4e246c" />
<circle cx="213.3" cy="605.1" r="1.0" fill="#4e246c" />
<circle cx="215.6" cy="603.6" r="1.0" fill="#4e246c" />
<circle cx="212.2" cy="601.2" r="1.0" fill="#4e246c" />
<circle cx="214.3" cy="602.2" r="1.0" fill="#4e246c" />
<circle cx="212.7" cy="602.3" r="1.0" fill="#4e246c" />
<circle cx="212.6" cy="605.9" r="1.0" fill="#4e246c" />
<circle cx="213.1" cy="603.4" r="1.0" fill="#4e246c" />
<circle cx="214.4" cy="600.8" r="1.0" fill="#4e246c" />
<circle cx="216.3" cy="601.8" r="1.0" fill="#4e246c" />
<circle cx="213.0" cy="603.2" r="1.0" fill="#4e246c" />
<circle cx="211.8" cy="605.1" r="1.0" fill="#4e246c" />
<circle cx="214.5" cy="605.4" r="1.0" fill="#4e246c" />
<line x1="168.4" y1="576.8" x2="182.5" y2="576.8" stroke="#888" stroke-width="1.0" />
<text x="175.4" y="577.4" font-size="7.99" fill="#333" text-anchor="middle" stroke="#333" stroke-width="0.18" textLength="5.2" lengthAdjust="spacingAndGlyphs" >**</text>
<line x1="200.0" y1="576.6" x2="213.8" y2="576.6" stroke="#888" stroke-width="1.0" />
<text x="206.9" y="577.2" font-size="7.99" fill="#333" text-anchor="middle" stroke="#333" stroke-width="0.18" textLength="2.6" lengthAdjust="spacingAndGlyphs" >*</text>
<text x="163.5" y="666.0" font-size="7.13" fill="#333" text-anchor="middle" stroke="#333" stroke-width="0.1" textLength="36.0" lengthAdjust="spacingAndGlyphs" transform="rotate(-45 163.5 666.0)" >endogenous</text>
<text x="169.3" y="672.0" font-size="7.45" fill="#333" text-anchor="middle" stroke="#333" stroke-width="0.18" textLength="13.5" lengthAdjust="spacingAndGlyphs" transform="rotate(-45 169.3 672.0)" >CD8</text>
<text x="198.2" y="662.8" font-size="7.45" fill="#333" text-anchor="middle" stroke="#333" stroke-width="0.18" textLength="28.5" lengthAdjust="spacingAndGlyphs" transform="rotate(-45 198.2 662.8)" >CD8 CAR</text>
<line x1="259.1" y1="647.5" x2="259.1" y2="574.1" stroke="#111" stroke-width="1.1" />
<path d="M257.1,574.6 L259.1,570.0 L261.1,574.6 Z" stroke="none" fill="#111" stroke-width="1" />
<line x1="259.1" y1="647.5" x2="282.4" y2="647.5" stroke="#111" stroke-width="1.1" />
<path d="M281.9,645.5 L286.5,647.5 L281.9,649.5 Z" stroke="none" fill="#111" stroke-width="1" />
<line x1="290.3" y1="647.5" x2="313.5" y2="647.5" stroke="#111" stroke-width="1.1" />
<path d="M313.0,645.5 L317.6,647.5 L313.0,649.5 Z" stroke="none" fill="#111" stroke-width="1" />
<line x1="256.5" y1="580.0" x2="259.1" y2="580.0" stroke="#222" stroke-width="0.9" />
<text x="254.1" y="582.5" font-size="7.56" fill="#333" text-anchor="end" stroke="#333" stroke-width="0.18" textLength="10.2" lengthAdjust="spacingAndGlyphs" >100</text>
<line x1="256.5" y1="596.2" x2="259.1" y2="596.2" stroke="#222" stroke-width="0.9" />
<text x="254.1" y="598.7" font-size="7.56" fill="#333" text-anchor="end" stroke="#333" stroke-width="0.18" textLength="6.8" lengthAdjust="spacingAndGlyphs" >75</text>
<line x1="256.5" y1="612.3" x2="259.1" y2="612.3" stroke="#222" stroke-width="0.9" />
<text x="254.1" y="614.8" font-size="7.56" fill="#333" text-anchor="end" stroke="#333" stroke-width="0.18" textLength="6.8" lengthAdjust="spacingAndGlyphs" >50</text>
<line x1="256.5" y1="628.5" x2="259.1" y2="628.5" stroke="#222" stroke-width="0.9" />
<text x="254.1" y="631.0" font-size="7.56" fill="#333" text-anchor="end" stroke="#333" stroke-width="0.18" textLength="6.8" lengthAdjust="spacingAndGlyphs" >25</text>
<line x1="256.5" y1="644.7" x2="259.1" y2="644.7" stroke="#222" stroke-width="0.9" />
<text x="254.1" y="647.2" font-size="7.56" fill="#333" text-anchor="end" stroke="#333" stroke-width="0.18" textLength="3.4" lengthAdjust="spacingAndGlyphs" >0</text>
<text x="236.6" y="610.5" font-size="8.64" fill="#333" text-anchor="middle" stroke="#333" stroke-width="0.18" textLength="60.0" lengthAdjust="spacingAndGlyphs" transform="rotate(-90 236.6 610.5)" >PD-1 expression [%]</text>
<line x1="266.9" y1="636.0" x2="266.9" y2="642.0" stroke="#c8283a" stroke-width="0.9" />
<rect x="263.9" y="638.0" width="6.0" height="2.0" fill="#ec8a78" stroke="none" stroke-width="1" />
<line x1="263.9" y1="639.0" x2="269.9" y2="639.0" stroke="#c8283a" stroke-width="0.9" />
<circle cx="266.4" cy="640.3" r="1.0" fill="#c8283a" />
<circle cx="265.1" cy="640.8" r="1.0" fill="#c8283a" />
<circle cx="269.0" cy="640.6" r="1.0" fill="#c8283a" />
<circle cx="271.0" cy="638.8" r="1.0" fill="#c8283a" />
<circle cx="268.0" cy="637.7" r="1.0" fill="#c8283a" />
<circle cx="263.2" cy="638.8" r="1.0" fill="#c8283a" />
<circle cx="265.7" cy="639.8" r="1.0" fill="#c8283a" />
<circle cx="268.7" cy="640.7" r="1.0" fill="#c8283a" />
<circle cx="266.2" cy="639.2" r="1.0" fill="#c8283a" />
<circle cx="262.6" cy="639.1" r="1.0" fill="#c8283a" />
<circle cx="267.3" cy="638.5" r="1.0" fill="#c8283a" />
<circle cx="268.7" cy="640.1" r="1.0" fill="#c8283a" />
<circle cx="264.6" cy="640.7" r="1.0" fill="#c8283a" />
<circle cx="265.1" cy="638.1" r="1.0" fill="#c8283a" />
<line x1="279.2" y1="600.7" x2="279.2" y2="617.6" stroke="#7d56a0" stroke-width="0.9" />
<rect x="274.7" y="609.0" width="9.0" height="4.7" fill="#a487bd" stroke="none" stroke-width="1" />
<line x1="274.7" y1="611.4" x2="283.7" y2="611.4" stroke="#4e246c" stroke-width="0.9" />
<circle cx="279.2" cy="601.0" r="1.0" fill="#4e246c" />
<circle cx="279.2" cy="605.0" r="1.0" fill="#4e246c" />
<circle cx="279.2" cy="617.0" r="1.0" fill="#4e246c" />
<circle cx="280.7" cy="612.5" r="1.0" fill="#4e246c" />
<circle cx="281.7" cy="610.7" r="1.0" fill="#4e246c" />
<circle cx="281.8" cy="613.3" r="1.0" fill="#4e246c" />
<circle cx="282.8" cy="611.1" r="1.0" fill="#4e246c" />
<circle cx="275.7" cy="610.6" r="1.0" fill="#4e246c" />
<circle cx="279.7" cy="613.4" r="1.0" fill="#4e246c" />
<circle cx="275.3" cy="611.8" r="1.0" fill="#4e246c" />
<circle cx="280.5" cy="610.3" r="1.0" fill="#4e246c" />
<circle cx="278.1" cy="609.4" r="1.0" fill="#4e246c" />
<circle cx="280.5" cy="612.0" r="1.0" fill="#4e246c" />
<line x1="298.0" y1="578.5" x2="298.0" y2="586.0" stroke="#c8283a" stroke-width="0.9" />
<rect x="294.0" y="580.5" width="8.0" height="2.0" fill="#ec8a78" stroke="none" stroke-width="1" />
<line x1="294.0" y1="581.5" x2="302.0" y2="581.5" stroke="#c8283a" stroke-width="0.9" />
<circle cx="298.0" cy="585.5" r="1.0" fill="#c8283a" />
<circle cx="294.1" cy="581.3" r="1.0" fill="#c8283a" />
<circle cx="294.7" cy="580.1" r="1.0" fill="#c8283a" />
<circle cx="299.4" cy="581.0" r="1.0" fill="#c8283a" />
<circle cx="299.0" cy="581.4" r="1.0" fill="#c8283a" />
<circle cx="296.9" cy="582.0" r="1.0" fill="#c8283a" />
<circle cx="294.9" cy="581.2" r="1.0" fill="#c8283a" />
<circle cx="297.9" cy="580.8" r="1.0" fill="#c8283a" />
<circle cx="298.0" cy="581.3" r="1.0" fill="#c8283a" />
<circle cx="295.7" cy="581.4" r="1.0" fill="#c8283a" />
<circle cx="301.8" cy="581.1" r="1.0" fill="#c8283a" />
<circle cx="295.7" cy="582.0" r="1.0" fill="#c8283a" />
<circle cx="297.9" cy="582.5" r="1.0" fill="#c8283a" />
<circle cx="298.3" cy="581.2" r="1.0" fill="#c8283a" />
<circle cx="302.4" cy="582.0" r="1.0" fill="#c8283a" />
<line x1="310.5" y1="579.0" x2="310.5" y2="582.0" stroke="#7d56a0" stroke-width="0.9" />
<rect x="306.0" y="579.6" width="9.0" height="1.2" fill="#a487bd" stroke="none" stroke-width="1" />
<line x1="306.0" y1="580.2" x2="315.0" y2="580.2" stroke="#4e246c" stroke-width="0.9" />
<circle cx="310.5" cy="582.0" r="1.0" fill="#4e246c" />
<circle cx="308.5" cy="580.3" r="1.0" fill="#4e246c" />
<circle cx="311.2" cy="580.0" r="1.0" fill="#4e246c" />
<circle cx="314.4" cy="579.9" r="1.0" fill="#4e246c" />
<circle cx="312.8" cy="580.0" r="1.0" fill="#4e246c" />
<circle cx="307.9" cy="579.8" r="1.0" fill="#4e246c" />
<circle cx="310.6" cy="579.4" r="1.0" fill="#4e246c" />
<circle cx="312.0" cy="579.1" r="1.0" fill="#4e246c" />
<circle cx="313.4" cy="579.6" r="1.0" fill="#4e246c" />
<circle cx="306.0" cy="580.0" r="1.0" fill="#4e246c" />
<circle cx="307.2" cy="579.5" r="1.0" fill="#4e246c" />
<circle cx="315.4" cy="580.0" r="1.0" fill="#4e246c" />
<circle cx="308.3" cy="581.0" r="1.0" fill="#4e246c" />
<line x1="266.3" y1="576.9" x2="279.8" y2="576.9" stroke="#888" stroke-width="1.0" />
<text x="273.1" y="577.5" font-size="7.99" fill="#333" text-anchor="middle" stroke="#333" stroke-width="0.18" textLength="7.8" lengthAdjust="spacingAndGlyphs" >***</text>
<text x="261.0" y="666.0" font-size="7.13" fill="#333" text-anchor="middle" stroke="#333" stroke-width="0.1" textLength="36.0" lengthAdjust="spacingAndGlyphs" transform="rotate(-45 261.0 666.0)" >endogenous</text>
<text x="266.8" y="672.0" font-size="7.45" fill="#333" text-anchor="middle" stroke="#333" stroke-width="0.18" textLength="13.5" lengthAdjust="spacingAndGlyphs" transform="rotate(-45 266.8 672.0)" >CD8</text>
<text x="295.7" y="662.8" font-size="7.45" fill="#333" text-anchor="middle" stroke="#333" stroke-width="0.18" textLength="28.5" lengthAdjust="spacingAndGlyphs" transform="rotate(-45 295.7 662.8)" >CD8 CAR</text>
<line x1="356.1" y1="647.5" x2="356.1" y2="574.7" stroke="#111" stroke-width="1.1" />
<path d="M354.1,575.2 L356.1,570.6 L358.1,575.2 Z" stroke="none" fill="#111" stroke-width="1" />
<line x1="356.1" y1="647.5" x2="378.9" y2="647.5" stroke="#111" stroke-width="1.1" />
<path d="M378.4,645.5 L383.0,647.5 L378.4,649.5 Z" stroke="none" fill="#111" stroke-width="1" />
<line x1="388.1" y1="647.5" x2="411.1" y2="647.5" stroke="#111" stroke-width="1.1" />
<path d="M410.6,645.5 L415.2,647.5 L410.6,649.5 Z" stroke="none" fill="#111" stroke-width="1" />
<line x1="353.5" y1="580.2" x2="356.1" y2="580.2" stroke="#222" stroke-width="0.9" />
<text x="351.1" y="582.7" font-size="7.56" fill="#333" text-anchor="end" stroke="#333" stroke-width="0.18" textLength="10.2" lengthAdjust="spacingAndGlyphs" >100</text>
<line x1="353.5" y1="596.1" x2="356.1" y2="596.1" stroke="#222" stroke-width="0.9" />
<text x="351.1" y="598.6" font-size="7.56" fill="#333" text-anchor="end" stroke="#333" stroke-width="0.18" textLength="6.8" lengthAdjust="spacingAndGlyphs" >75</text>
<line x1="353.5" y1="612.2" x2="356.1" y2="612.2" stroke="#222" stroke-width="0.9" />
<text x="351.1" y="614.7" font-size="7.56" fill="#333" text-anchor="end" stroke="#333" stroke-width="0.18" textLength="6.8" lengthAdjust="spacingAndGlyphs" >50</text>
<line x1="353.5" y1="628.1" x2="356.1" y2="628.1" stroke="#222" stroke-width="0.9" />
<text x="351.1" y="630.6" font-size="7.56" fill="#333" text-anchor="end" stroke="#333" stroke-width="0.18" textLength="6.8" lengthAdjust="spacingAndGlyphs" >25</text>
<line x1="353.5" y1="644.1" x2="356.1" y2="644.1" stroke="#222" stroke-width="0.9" />
<text x="351.1" y="646.6" font-size="7.56" fill="#333" text-anchor="end" stroke="#333" stroke-width="0.18" textLength="3.4" lengthAdjust="spacingAndGlyphs" >0</text>
<text x="334.5" y="610.5" font-size="8.64" fill="#333" text-anchor="middle" stroke="#333" stroke-width="0.18" textLength="37.0" lengthAdjust="spacingAndGlyphs" transform="rotate(-90 334.5 610.5)" >Ki67<tspan font-size="4.5" dy="-2.5">high</tspan><tspan dy="2.5"> [%]</tspan></text>
<line x1="364.5" y1="622.0" x2="364.5" y2="629.0" stroke="#c8283a" stroke-width="0.9" />
<rect x="361.5" y="624.3" width="6.0" height="2.0" fill="#ec8a78" stroke="none" stroke-width="1" />
<line x1="361.5" y1="625.3" x2="367.5" y2="625.3" stroke="#c8283a" stroke-width="0.9" />
<circle cx="364.5" cy="605.1" r="1.0" fill="#c8283a" />
<circle cx="361.4" cy="626.6" r="1.0" fill="#c8283a" />
<circle cx="367.9" cy="624.3" r="1.0" fill="#c8283a" />
<circle cx="365.6" cy="623.9" r="1.0" fill="#c8283a" />
<circle cx="368.1" cy="626.0" r="1.0" fill="#c8283a" />
<circle cx="362.1" cy="625.8" r="1.0" fill="#c8283a" />
<circle cx="366.8" cy="627.1" r="1.0" fill="#c8283a" />
<circle cx="366.0" cy="623.0" r="1.0" fill="#c8283a" />
<circle cx="363.2" cy="624.6" r="1.0" fill="#c8283a" />
<circle cx="366.1" cy="627.2" r="1.0" fill="#c8283a" />
<circle cx="361.8" cy="624.2" r="1.0" fill="#c8283a" />
<circle cx="365.6" cy="625.7" r="1.0" fill="#c8283a" />
<circle cx="367.4" cy="625.7" r="1.0" fill="#c8283a" />
<line x1="376.0" y1="585.0" x2="376.0" y2="605.7" stroke="#7d56a0" stroke-width="0.9" />
<rect x="372.0" y="591.1" width="8.0" height="7.3" fill="#a487bd" stroke="none" stroke-width="1" />
<line x1="372.0" y1="594.8" x2="380.0" y2="594.8" stroke="#4e246c" stroke-width="0.9" />
<circle cx="376.0" cy="586.0" r="1.0" fill="#4e246c" />
<circle cx="376.0" cy="605.0" r="1.0" fill="#4e246c" />
<circle cx="378.5" cy="595.7" r="1.0" fill="#4e246c" />
<circle cx="376.4" cy="595.5" r="1.0" fill="#4e246c" />
<circle cx="374.0" cy="593.4" r="1.0" fill="#4e246c" />
<circle cx="375.8" cy="595.6" r="1.0" fill="#4e246c" />
<circle cx="372.8" cy="593.9" r="1.0" fill="#4e246c" />
<circle cx="377.7" cy="593.4" r="1.0" fill="#4e246c" />
<circle cx="375.4" cy="594.2" r="1.0" fill="#4e246c" />
<circle cx="374.6" cy="596.5" r="1.0" fill="#4e246c" />
<circle cx="373.1" cy="596.0" r="1.0" fill="#4e246c" />
<circle cx="377.2" cy="596.4" r="1.0" fill="#4e246c" />
<line x1="394.9" y1="586.5" x2="394.9" y2="594.0" stroke="#c8283a" stroke-width="0.9" />
<rect x="391.4" y="589.3" width="7.0" height="2.0" fill="#ec8a78" stroke="none" stroke-width="1" />
<line x1="391.4" y1="590.3" x2="398.4" y2="590.3" stroke="#c8283a" stroke-width="0.9" />
<circle cx="394.9" cy="587.0" r="1.0" fill="#c8283a" />
<circle cx="394.9" cy="593.5" r="1.0" fill="#c8283a" />
<circle cx="396.6" cy="590.0" r="1.0" fill="#c8283a" />
<circle cx="394.2" cy="589.8" r="1.0" fill="#c8283a" />
<circle cx="396.7" cy="590.5" r="1.0" fill="#c8283a" />
<circle cx="391.6" cy="589.1" r="1.0" fill="#c8283a" />
<circle cx="393.9" cy="589.3" r="1.0" fill="#c8283a" />
<circle cx="396.1" cy="591.6" r="1.0" fill="#c8283a" />
<circle cx="395.0" cy="590.9" r="1.0" fill="#c8283a" />
<circle cx="397.9" cy="589.0" r="1.0" fill="#c8283a" />
<circle cx="395.1" cy="590.0" r="1.0" fill="#c8283a" />
<circle cx="396.4" cy="588.0" r="1.0" fill="#c8283a" />
<circle cx="393.2" cy="590.7" r="1.0" fill="#c8283a" />
<circle cx="392.9" cy="590.0" r="1.0" fill="#c8283a" />
<line x1="407.0" y1="580.4" x2="407.0" y2="595.3" stroke="#7d56a0" stroke-width="0.9" />
<rect x="403.0" y="586.0" width="8.0" height="5.0" fill="#a487bd" stroke="none" stroke-width="1" />
<line x1="403.0" y1="588.5" x2="411.0" y2="588.5" stroke="#4e246c" stroke-width="0.9" />
<circle cx="407.0" cy="581.0" r="1.0" fill="#4e246c" />
<circle cx="407.0" cy="595.0" r="1.0" fill="#4e246c" />
<circle cx="408.1" cy="587.9" r="1.0" fill="#4e246c" />
<circle cx="403.5" cy="588.8" r="1.0" fill="#4e246c" />
<circle cx="407.2" cy="586.6" r="1.0" fill="#4e246c" />
<circle cx="406.2" cy="589.3" r="1.0" fill="#4e246c" />
<circle cx="405.3" cy="588.8" r="1.0" fill="#4e246c" />
<circle cx="407.7" cy="587.1" r="1.0" fill="#4e246c" />
<circle cx="409.1" cy="586.9" r="1.0" fill="#4e246c" />
<circle cx="404.5" cy="590.6" r="1.0" fill="#4e246c" />
<circle cx="408.4" cy="590.4" r="1.0" fill="#4e246c" />
<circle cx="403.8" cy="587.0" r="1.0" fill="#4e246c" />
<line x1="364.1" y1="576.9" x2="377.2" y2="576.9" stroke="#888" stroke-width="1.0" />
<text x="370.6" y="577.5" font-size="7.99" fill="#333" text-anchor="middle" stroke="#333" stroke-width="0.18" textLength="7.8" lengthAdjust="spacingAndGlyphs" >***</text>
<text x="357.8" y="666.0" font-size="7.13" fill="#333" text-anchor="middle" stroke="#333" stroke-width="0.1" textLength="36.0" lengthAdjust="spacingAndGlyphs" transform="rotate(-45 357.8 666.0)" >endogenous</text>
<text x="363.6" y="672.0" font-size="7.45" fill="#333" text-anchor="middle" stroke="#333" stroke-width="0.18" textLength="13.5" lengthAdjust="spacingAndGlyphs" transform="rotate(-45 363.6 672.0)" >CD8</text>
<text x="393.3" y="662.8" font-size="7.45" fill="#333" text-anchor="middle" stroke="#333" stroke-width="0.18" textLength="28.5" lengthAdjust="spacingAndGlyphs" transform="rotate(-45 393.3 662.8)" >CD8 CAR</text>
<line x1="453.1" y1="647.5" x2="453.1" y2="574.5" stroke="#111" stroke-width="1.1" />
<path d="M451.1,575.0 L453.1,570.4 L455.1,575.0 Z" stroke="none" fill="#111" stroke-width="1" />
<line x1="453.1" y1="647.5" x2="476.7" y2="647.5" stroke="#111" stroke-width="1.1" />
<path d="M476.2,645.5 L480.8,647.5 L476.2,649.5 Z" stroke="none" fill="#111" stroke-width="1" />
<line x1="485.5" y1="647.5" x2="508.6" y2="647.5" stroke="#111" stroke-width="1.1" />
<path d="M508.1,645.5 L512.7,647.5 L508.1,649.5 Z" stroke="none" fill="#111" stroke-width="1" />
<line x1="450.5" y1="576.6" x2="453.1" y2="576.6" stroke="#222" stroke-width="0.9" />
<text x="448.1" y="579.1" font-size="7.56" fill="#333" text-anchor="end" stroke="#333" stroke-width="0.18" textLength="10.2" lengthAdjust="spacingAndGlyphs" >300</text>
<line x1="450.5" y1="599.3" x2="453.1" y2="599.3" stroke="#222" stroke-width="0.9" />
<text x="448.1" y="601.8" font-size="7.56" fill="#333" text-anchor="end" stroke="#333" stroke-width="0.18" textLength="10.2" lengthAdjust="spacingAndGlyphs" >200</text>
<line x1="450.5" y1="621.9" x2="453.1" y2="621.9" stroke="#222" stroke-width="0.9" />
<text x="448.1" y="624.4" font-size="7.56" fill="#333" text-anchor="end" stroke="#333" stroke-width="0.18" textLength="10.2" lengthAdjust="spacingAndGlyphs" >100</text>
<line x1="450.5" y1="644.3" x2="453.1" y2="644.3" stroke="#222" stroke-width="0.9" />
<text x="448.1" y="646.8" font-size="7.56" fill="#333" text-anchor="end" stroke="#333" stroke-width="0.18" textLength="3.4" lengthAdjust="spacingAndGlyphs" >0</text>
<text x="431.0" y="610.5" font-size="8.64" fill="#333" text-anchor="middle" stroke="#333" stroke-width="0.18" textLength="63.5" lengthAdjust="spacingAndGlyphs" transform="rotate(-90 431.0 610.5)" >GrB expression [MFI]</text>
<line x1="461.2" y1="615.4" x2="461.2" y2="623.5" stroke="#c8283a" stroke-width="0.9" />
<rect x="457.7" y="619.5" width="7.0" height="2.0" fill="#ec8a78" stroke="none" stroke-width="1" />
<line x1="457.7" y1="620.5" x2="464.7" y2="620.5" stroke="#c8283a" stroke-width="0.9" />
<circle cx="461.2" cy="616.0" r="1.0" fill="#c8283a" />
<circle cx="460.4" cy="621.2" r="1.0" fill="#c8283a" />
<circle cx="459.6" cy="619.0" r="1.0" fill="#c8283a" />
<circle cx="462.4" cy="619.7" r="1.0" fill="#c8283a" />
<circle cx="462.1" cy="618.8" r="1.0" fill="#c8283a" />
<circle cx="461.3" cy="618.6" r="1.0" fill="#c8283a" />
<circle cx="464.7" cy="619.8" r="1.0" fill="#c8283a" />
<circle cx="457.9" cy="621.5" r="1.0" fill="#c8283a" />
<circle cx="463.7" cy="619.2" r="1.0" fill="#c8283a" />
<circle cx="460.2" cy="622.0" r="1.0" fill="#c8283a" />
<circle cx="464.7" cy="619.6" r="1.0" fill="#c8283a" />
<circle cx="463.1" cy="619.7" r="1.0" fill="#c8283a" />
<circle cx="462.2" cy="619.1" r="1.0" fill="#c8283a" />
<line x1="473.9" y1="607.3" x2="473.9" y2="623.0" stroke="#7d56a0" stroke-width="0.9" />
<rect x="469.4" y="610.3" width="9.0" height="10.2" fill="#a487bd" stroke="none" stroke-width="1" />
<line x1="469.4" y1="615.4" x2="478.4" y2="615.4" stroke="#4e246c" stroke-width="0.9" />
<circle cx="473.9" cy="608.0" r="1.0" fill="#4e246c" />
<circle cx="475.0" cy="617.7" r="1.0" fill="#4e246c" />
<circle cx="475.3" cy="612.9" r="1.0" fill="#4e246c" />
<circle cx="473.8" cy="612.7" r="1.0" fill="#4e246c" />
<circle cx="471.5" cy="613.8" r="1.0" fill="#4e246c" />
<circle cx="470.1" cy="614.1" r="1.0" fill="#4e246c" />
<circle cx="470.7" cy="614.0" r="1.0" fill="#4e246c" />
<circle cx="474.4" cy="613.3" r="1.0" fill="#4e246c" />
<circle cx="475.9" cy="619.4" r="1.0" fill="#4e246c" />
<circle cx="476.7" cy="612.9" r="1.0" fill="#4e246c" />
<circle cx="473.5" cy="616.0" r="1.0" fill="#4e246c" />
<circle cx="474.0" cy="613.2" r="1.0" fill="#4e246c" />
<circle cx="472.5" cy="616.7" r="1.0" fill="#4e246c" />
<line x1="493.5" y1="619.0" x2="493.5" y2="622.0" stroke="#c8283a" stroke-width="0.9" />
<rect x="490.0" y="619.8" width="7.0" height="1.5" fill="#ec8a78" stroke="none" stroke-width="1" />
<line x1="490.0" y1="620.5" x2="497.0" y2="620.5" stroke="#c8283a" stroke-width="0.9" />
<circle cx="493.5" cy="610.3" r="1.0" fill="#c8283a" />
<circle cx="493.7" cy="621.0" r="1.0" fill="#c8283a" />
<circle cx="495.7" cy="621.3" r="1.0" fill="#c8283a" />
<circle cx="491.8" cy="619.5" r="1.0" fill="#c8283a" />
<circle cx="492.1" cy="620.7" r="1.0" fill="#c8283a" />
<circle cx="492.9" cy="619.3" r="1.0" fill="#c8283a" />
<circle cx="497.1" cy="620.5" r="1.0" fill="#c8283a" />
<circle cx="496.0" cy="620.2" r="1.0" fill="#c8283a" />
<circle cx="495.1" cy="619.4" r="1.0" fill="#c8283a" />
<circle cx="495.8" cy="620.7" r="1.0" fill="#c8283a" />
<line x1="506.2" y1="603.4" x2="506.2" y2="623.0" stroke="#7d56a0" stroke-width="0.9" />
<rect x="502.2" y="613.6" width="8.0" height="6.0" fill="#a487bd" stroke="none" stroke-width="1" />
<line x1="502.2" y1="616.6" x2="510.2" y2="616.6" stroke="#4e246c" stroke-width="0.9" />
<circle cx="506.2" cy="604.0" r="1.0" fill="#4e246c" />
<circle cx="506.2" cy="595.8" r="1.0" fill="#4e246c" />
<circle cx="507.3" cy="614.4" r="1.0" fill="#4e246c" />
<circle cx="505.5" cy="617.0" r="1.0" fill="#4e246c" />
<circle cx="503.3" cy="618.6" r="1.0" fill="#4e246c" />
<circle cx="509.7" cy="617.1" r="1.0" fill="#4e246c" />
<circle cx="504.7" cy="614.6" r="1.0" fill="#4e246c" />
<circle cx="506.6" cy="617.1" r="1.0" fill="#4e246c" />
<circle cx="506.3" cy="615.2" r="1.0" fill="#4e246c" />
<circle cx="506.3" cy="618.2" r="1.0" fill="#4e246c" />
<circle cx="503.9" cy="618.1" r="1.0" fill="#4e246c" />
<circle cx="507.7" cy="618.4" r="1.0" fill="#4e246c" />
<line x1="460.5" y1="576.6" x2="474.4" y2="576.6" stroke="#888" stroke-width="1.0" />
<text x="467.4" y="577.2" font-size="7.99" fill="#333" text-anchor="middle" stroke="#333" stroke-width="0.18" textLength="2.6" lengthAdjust="spacingAndGlyphs" >*</text>
<text x="455.2" y="666.0" font-size="7.13" fill="#333" text-anchor="middle" stroke="#333" stroke-width="0.1" textLength="36.0" lengthAdjust="spacingAndGlyphs" transform="rotate(-45 455.2 666.0)" >endogenous</text>
<text x="461.0" y="672.0" font-size="7.45" fill="#333" text-anchor="middle" stroke="#333" stroke-width="0.18" textLength="13.5" lengthAdjust="spacingAndGlyphs" transform="rotate(-45 461.0 672.0)" >CD8</text>
<text x="490.8" y="662.8" font-size="7.45" fill="#333" text-anchor="middle" stroke="#333" stroke-width="0.18" textLength="28.5" lengthAdjust="spacingAndGlyphs" transform="rotate(-45 490.8 662.8)" >CD8 CAR</text>
<path d="M150,646.2 L152.8,648.6 L149.6,649.2 Z" stroke="none" fill="#222" stroke-width="1" />
<rect x="0.5" y="0.5" width="519" height="692" fill="none" stroke="#555" stroke-width="1.2"/>
</svg></body></html>
